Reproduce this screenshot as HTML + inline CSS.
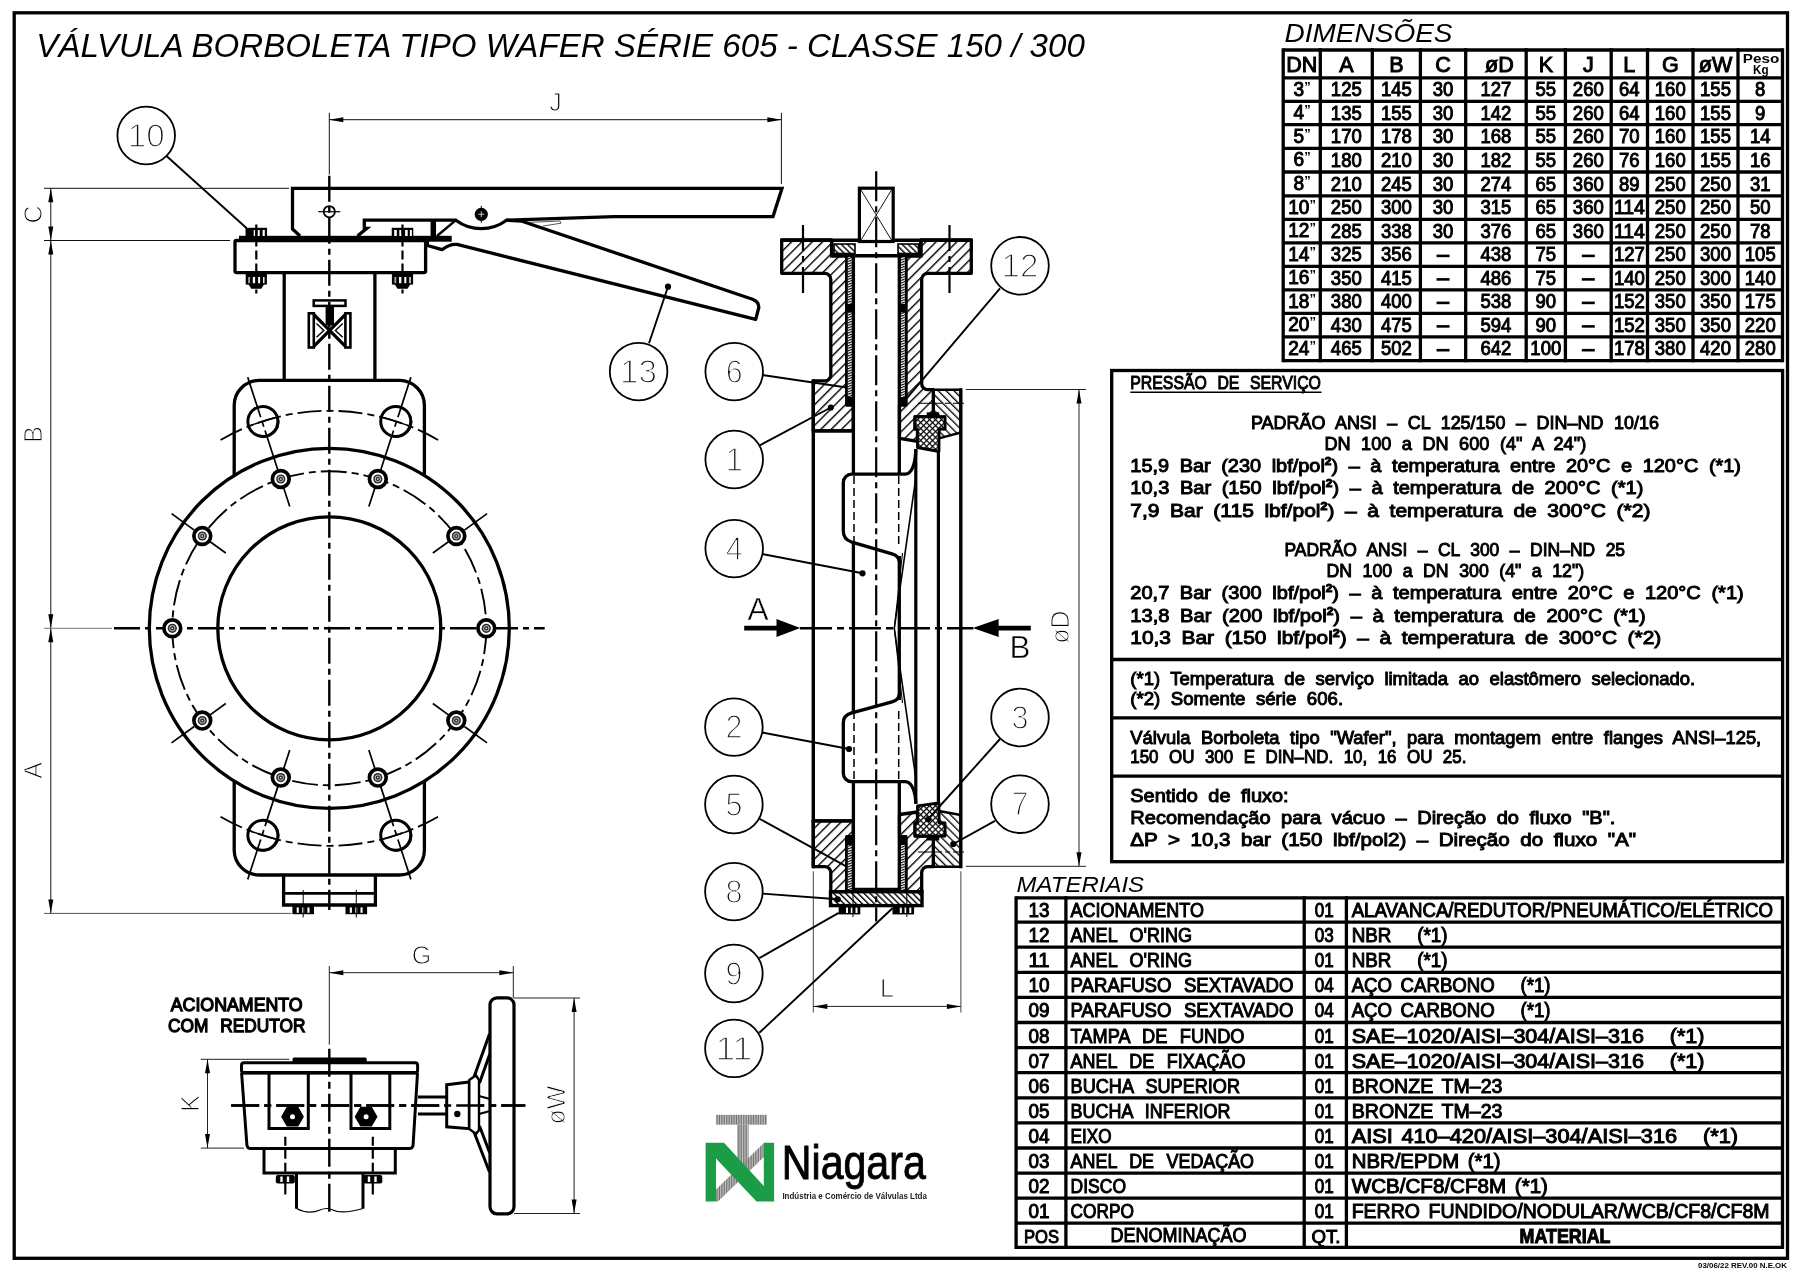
<!DOCTYPE html>
<html lang="pt"><head><meta charset="utf-8"><title>V&aacute;lvula Borboleta Tipo Wafer S&eacute;rie 605</title>
<style>
html,body{margin:0;padding:0;background:#fff;}
body{width:1800px;height:1272px;overflow:hidden;}
svg{display:block;font-family:"Liberation Sans",sans-serif;}
text{white-space:pre;}
.cad{stroke:#000;stroke-width:1.0px;}
.thin{stroke:#fff;stroke-width:1.0px;}
.thin2{stroke:#fff;stroke-width:1.5px;}
</style></head><body>
<svg width="1800" height="1272" viewBox="0 0 1800 1272">
<defs>
<pattern id="h1" patternUnits="userSpaceOnUse" width="7.3" height="7.3" patternTransform="rotate(45)"><rect x="0" y="0" width="1.4" height="7.3" fill="#000"/></pattern>
<pattern id="h2" patternUnits="userSpaceOnUse" width="5.6" height="5.6" patternTransform="rotate(-45)"><rect x="0" y="0" width="1.3" height="5.6" fill="#000"/></pattern>
<pattern id="h3" patternUnits="userSpaceOnUse" width="4.3" height="4.3" patternTransform="rotate(-45)"><rect x="0" y="0" width="1.4" height="4.3" fill="#000"/></pattern>
<pattern id="hx" patternUnits="userSpaceOnUse" width="4.2" height="4.2" patternTransform="rotate(45)"><rect x="0" y="0" width="1.2" height="4.2" fill="#000"/><rect x="0" y="0" width="4.2" height="1.2" fill="#000"/></pattern>
<pattern id="hb" patternUnits="userSpaceOnUse" width="2" height="2.4" patternTransform="rotate(-20)"><rect x="0" y="0" width="2" height="1.1" fill="#000"/></pattern>
<pattern id="gs" patternUnits="userSpaceOnUse" width="1.7" height="4"><rect x="0" y="0" width="1.1" height="4" fill="#6f6f6f"/><rect x="1.1" y="0" width="0.6" height="4" fill="#bdbdbd"/></pattern>
</defs>
<rect x="0" y="0" width="1800" height="1272" fill="#fff"/>
<g style="filter:grayscale(1)">
<!-- frame -->
<rect x="14.2" y="12.8" width="1773.3" height="1245.5" fill="none" stroke="#000" stroke-width="3.3"/>
<text x="36.3" y="57" font-size="32.3" font-style="italic" textLength="1048.5" lengthAdjust="spacingAndGlyphs">VÁLVULA BORBOLETA TIPO WAFER SÉRIE 605 - CLASSE 150 / 300</text>
<text x="1698" y="1268.2" font-size="7.6" font-weight="bold" textLength="89" lengthAdjust="spacingAndGlyphs">03/06/22 REV.00 N.E.OK</text>
<!-- dimensoes -->
<text x="1284.5" y="41.8" font-size="26.5" font-style="italic" textLength="168" lengthAdjust="spacingAndGlyphs">DIMENSÕES</text>
<line x1="1283.2" y1="48.35" x2="1283.2" y2="362.25" stroke="#000" stroke-width="3.3"/>
<line x1="1320.3" y1="48.35" x2="1320.3" y2="362.25" stroke="#000" stroke-width="3.3"/>
<line x1="1372.3" y1="48.35" x2="1372.3" y2="362.25" stroke="#000" stroke-width="3.3"/>
<line x1="1420.4" y1="48.35" x2="1420.4" y2="362.25" stroke="#000" stroke-width="3.3"/>
<line x1="1465.7" y1="48.35" x2="1465.7" y2="362.25" stroke="#000" stroke-width="3.3"/>
<line x1="1526.2" y1="48.35" x2="1526.2" y2="362.25" stroke="#000" stroke-width="3.3"/>
<line x1="1565.4" y1="48.35" x2="1565.4" y2="362.25" stroke="#000" stroke-width="3.3"/>
<line x1="1611.2" y1="48.35" x2="1611.2" y2="362.25" stroke="#000" stroke-width="3.3"/>
<line x1="1647.5" y1="48.35" x2="1647.5" y2="362.25" stroke="#000" stroke-width="3.3"/>
<line x1="1693" y1="48.35" x2="1693" y2="362.25" stroke="#000" stroke-width="3.3"/>
<line x1="1738" y1="48.35" x2="1738" y2="362.25" stroke="#000" stroke-width="3.3"/>
<line x1="1782.5" y1="48.35" x2="1782.5" y2="362.25" stroke="#000" stroke-width="3.3"/>
<line x1="1283.2" y1="50" x2="1782.5" y2="50" stroke="#000" stroke-width="3.3"/>
<line x1="1283.2" y1="77.8" x2="1782.5" y2="77.8" stroke="#000" stroke-width="3.3"/>
<line x1="1283.2" y1="101.3" x2="1782.5" y2="101.3" stroke="#000" stroke-width="3.3"/>
<line x1="1283.2" y1="124.7" x2="1782.5" y2="124.7" stroke="#000" stroke-width="3.3"/>
<line x1="1283.2" y1="148.3" x2="1782.5" y2="148.3" stroke="#000" stroke-width="3.3"/>
<line x1="1283.2" y1="172" x2="1782.5" y2="172" stroke="#000" stroke-width="3.3"/>
<line x1="1283.2" y1="195.8" x2="1782.5" y2="195.8" stroke="#000" stroke-width="3.3"/>
<line x1="1283.2" y1="219.3" x2="1782.5" y2="219.3" stroke="#000" stroke-width="3.3"/>
<line x1="1283.2" y1="242.8" x2="1782.5" y2="242.8" stroke="#000" stroke-width="3.3"/>
<line x1="1283.2" y1="266.3" x2="1782.5" y2="266.3" stroke="#000" stroke-width="3.3"/>
<line x1="1283.2" y1="289.8" x2="1782.5" y2="289.8" stroke="#000" stroke-width="3.3"/>
<line x1="1283.2" y1="313.3" x2="1782.5" y2="313.3" stroke="#000" stroke-width="3.3"/>
<line x1="1283.2" y1="336.8" x2="1782.5" y2="336.8" stroke="#000" stroke-width="3.3"/>
<line x1="1283.2" y1="360.6" x2="1782.5" y2="360.6" stroke="#000" stroke-width="3.3"/>
<text x="1301.75" y="72.3" font-size="21.5" text-anchor="middle" class="cad">DN</text>
<text x="1346.3" y="72.3" font-size="21.5" text-anchor="middle" class="cad">A</text>
<text x="1396.35" y="72.3" font-size="21.5" text-anchor="middle" class="cad">B</text>
<text x="1443.05" y="72.3" font-size="21.5" text-anchor="middle" class="cad">C</text>
<text x="1499.45" y="72.3" font-size="21.5" text-anchor="middle" class="cad">øD</text>
<text x="1545.8" y="72.3" font-size="21.5" text-anchor="middle" class="cad">K</text>
<text x="1588.3" y="72.3" font-size="21.5" text-anchor="middle" class="cad">J</text>
<text x="1629.35" y="72.3" font-size="21.5" text-anchor="middle" class="cad">L</text>
<text x="1670.25" y="72.3" font-size="21.5" text-anchor="middle" class="cad">G</text>
<text x="1715.5" y="72.3" font-size="21.5" text-anchor="middle" class="cad">øW</text>
<text x="1761.05" y="62.6" font-size="13.5" text-anchor="middle" font-weight="bold" textLength="36.5" lengthAdjust="spacingAndGlyphs">Peso</text>
<text x="1760.75" y="73.8" font-size="12" text-anchor="middle" font-weight="bold" textLength="15.5" lengthAdjust="spacingAndGlyphs">Kg</text>
<text x="1293.45" y="95.6" font-size="19.5" textLength="10.6" lengthAdjust="spacingAndGlyphs" class="cad">3</text>
<text x="1304.25" y="90.6" font-size="13" font-weight="bold">”</text>
<text x="1346.3" y="96.1" font-size="19.5" text-anchor="middle" textLength="30.9" lengthAdjust="spacingAndGlyphs" class="cad">125</text>
<text x="1396.35" y="96.1" font-size="19.5" text-anchor="middle" textLength="30.9" lengthAdjust="spacingAndGlyphs" class="cad">145</text>
<text x="1443.05" y="96.1" font-size="19.5" text-anchor="middle" textLength="20.6" lengthAdjust="spacingAndGlyphs" class="cad">30</text>
<text x="1495.95" y="96.1" font-size="19.5" text-anchor="middle" textLength="30.9" lengthAdjust="spacingAndGlyphs" class="cad">127</text>
<text x="1545.8" y="96.1" font-size="19.5" text-anchor="middle" textLength="20.6" lengthAdjust="spacingAndGlyphs" class="cad">55</text>
<text x="1588.3" y="96.1" font-size="19.5" text-anchor="middle" textLength="30.9" lengthAdjust="spacingAndGlyphs" class="cad">260</text>
<text x="1629.35" y="96.1" font-size="19.5" text-anchor="middle" textLength="20.6" lengthAdjust="spacingAndGlyphs" class="cad">64</text>
<text x="1670.25" y="96.1" font-size="19.5" text-anchor="middle" textLength="30.9" lengthAdjust="spacingAndGlyphs" class="cad">160</text>
<text x="1715.5" y="96.1" font-size="19.5" text-anchor="middle" textLength="30.9" lengthAdjust="spacingAndGlyphs" class="cad">155</text>
<text x="1760.25" y="96.1" font-size="19.5" text-anchor="middle" textLength="10.3" lengthAdjust="spacingAndGlyphs" class="cad">8</text>
<text x="1293.45" y="119" font-size="19.5" textLength="10.6" lengthAdjust="spacingAndGlyphs" class="cad">4</text>
<text x="1304.25" y="114" font-size="13" font-weight="bold">”</text>
<text x="1346.3" y="119.5" font-size="19.5" text-anchor="middle" textLength="30.9" lengthAdjust="spacingAndGlyphs" class="cad">135</text>
<text x="1396.35" y="119.5" font-size="19.5" text-anchor="middle" textLength="30.9" lengthAdjust="spacingAndGlyphs" class="cad">155</text>
<text x="1443.05" y="119.5" font-size="19.5" text-anchor="middle" textLength="20.6" lengthAdjust="spacingAndGlyphs" class="cad">30</text>
<text x="1495.95" y="119.5" font-size="19.5" text-anchor="middle" textLength="30.9" lengthAdjust="spacingAndGlyphs" class="cad">142</text>
<text x="1545.8" y="119.5" font-size="19.5" text-anchor="middle" textLength="20.6" lengthAdjust="spacingAndGlyphs" class="cad">55</text>
<text x="1588.3" y="119.5" font-size="19.5" text-anchor="middle" textLength="30.9" lengthAdjust="spacingAndGlyphs" class="cad">260</text>
<text x="1629.35" y="119.5" font-size="19.5" text-anchor="middle" textLength="20.6" lengthAdjust="spacingAndGlyphs" class="cad">64</text>
<text x="1670.25" y="119.5" font-size="19.5" text-anchor="middle" textLength="30.9" lengthAdjust="spacingAndGlyphs" class="cad">160</text>
<text x="1715.5" y="119.5" font-size="19.5" text-anchor="middle" textLength="30.9" lengthAdjust="spacingAndGlyphs" class="cad">155</text>
<text x="1760.25" y="119.5" font-size="19.5" text-anchor="middle" textLength="10.3" lengthAdjust="spacingAndGlyphs" class="cad">9</text>
<text x="1293.45" y="142.6" font-size="19.5" textLength="10.6" lengthAdjust="spacingAndGlyphs" class="cad">5</text>
<text x="1304.25" y="137.6" font-size="13" font-weight="bold">”</text>
<text x="1346.3" y="143.1" font-size="19.5" text-anchor="middle" textLength="30.9" lengthAdjust="spacingAndGlyphs" class="cad">170</text>
<text x="1396.35" y="143.1" font-size="19.5" text-anchor="middle" textLength="30.9" lengthAdjust="spacingAndGlyphs" class="cad">178</text>
<text x="1443.05" y="143.1" font-size="19.5" text-anchor="middle" textLength="20.6" lengthAdjust="spacingAndGlyphs" class="cad">30</text>
<text x="1495.95" y="143.1" font-size="19.5" text-anchor="middle" textLength="30.9" lengthAdjust="spacingAndGlyphs" class="cad">168</text>
<text x="1545.8" y="143.1" font-size="19.5" text-anchor="middle" textLength="20.6" lengthAdjust="spacingAndGlyphs" class="cad">55</text>
<text x="1588.3" y="143.1" font-size="19.5" text-anchor="middle" textLength="30.9" lengthAdjust="spacingAndGlyphs" class="cad">260</text>
<text x="1629.35" y="143.1" font-size="19.5" text-anchor="middle" textLength="20.6" lengthAdjust="spacingAndGlyphs" class="cad">70</text>
<text x="1670.25" y="143.1" font-size="19.5" text-anchor="middle" textLength="30.9" lengthAdjust="spacingAndGlyphs" class="cad">160</text>
<text x="1715.5" y="143.1" font-size="19.5" text-anchor="middle" textLength="30.9" lengthAdjust="spacingAndGlyphs" class="cad">155</text>
<text x="1760.25" y="143.1" font-size="19.5" text-anchor="middle" textLength="20.6" lengthAdjust="spacingAndGlyphs" class="cad">14</text>
<text x="1293.45" y="166.3" font-size="19.5" textLength="10.6" lengthAdjust="spacingAndGlyphs" class="cad">6</text>
<text x="1304.25" y="161.3" font-size="13" font-weight="bold">”</text>
<text x="1346.3" y="166.8" font-size="19.5" text-anchor="middle" textLength="30.9" lengthAdjust="spacingAndGlyphs" class="cad">180</text>
<text x="1396.35" y="166.8" font-size="19.5" text-anchor="middle" textLength="30.9" lengthAdjust="spacingAndGlyphs" class="cad">210</text>
<text x="1443.05" y="166.8" font-size="19.5" text-anchor="middle" textLength="20.6" lengthAdjust="spacingAndGlyphs" class="cad">30</text>
<text x="1495.95" y="166.8" font-size="19.5" text-anchor="middle" textLength="30.9" lengthAdjust="spacingAndGlyphs" class="cad">182</text>
<text x="1545.8" y="166.8" font-size="19.5" text-anchor="middle" textLength="20.6" lengthAdjust="spacingAndGlyphs" class="cad">55</text>
<text x="1588.3" y="166.8" font-size="19.5" text-anchor="middle" textLength="30.9" lengthAdjust="spacingAndGlyphs" class="cad">260</text>
<text x="1629.35" y="166.8" font-size="19.5" text-anchor="middle" textLength="20.6" lengthAdjust="spacingAndGlyphs" class="cad">76</text>
<text x="1670.25" y="166.8" font-size="19.5" text-anchor="middle" textLength="30.9" lengthAdjust="spacingAndGlyphs" class="cad">160</text>
<text x="1715.5" y="166.8" font-size="19.5" text-anchor="middle" textLength="30.9" lengthAdjust="spacingAndGlyphs" class="cad">155</text>
<text x="1760.25" y="166.8" font-size="19.5" text-anchor="middle" textLength="20.6" lengthAdjust="spacingAndGlyphs" class="cad">16</text>
<text x="1293.45" y="190.1" font-size="19.5" textLength="10.6" lengthAdjust="spacingAndGlyphs" class="cad">8</text>
<text x="1304.25" y="185.1" font-size="13" font-weight="bold">”</text>
<text x="1346.3" y="190.6" font-size="19.5" text-anchor="middle" textLength="30.9" lengthAdjust="spacingAndGlyphs" class="cad">210</text>
<text x="1396.35" y="190.6" font-size="19.5" text-anchor="middle" textLength="30.9" lengthAdjust="spacingAndGlyphs" class="cad">245</text>
<text x="1443.05" y="190.6" font-size="19.5" text-anchor="middle" textLength="20.6" lengthAdjust="spacingAndGlyphs" class="cad">30</text>
<text x="1495.95" y="190.6" font-size="19.5" text-anchor="middle" textLength="30.9" lengthAdjust="spacingAndGlyphs" class="cad">274</text>
<text x="1545.8" y="190.6" font-size="19.5" text-anchor="middle" textLength="20.6" lengthAdjust="spacingAndGlyphs" class="cad">65</text>
<text x="1588.3" y="190.6" font-size="19.5" text-anchor="middle" textLength="30.9" lengthAdjust="spacingAndGlyphs" class="cad">360</text>
<text x="1629.35" y="190.6" font-size="19.5" text-anchor="middle" textLength="20.6" lengthAdjust="spacingAndGlyphs" class="cad">89</text>
<text x="1670.25" y="190.6" font-size="19.5" text-anchor="middle" textLength="30.9" lengthAdjust="spacingAndGlyphs" class="cad">250</text>
<text x="1715.5" y="190.6" font-size="19.5" text-anchor="middle" textLength="30.9" lengthAdjust="spacingAndGlyphs" class="cad">250</text>
<text x="1760.25" y="190.6" font-size="19.5" text-anchor="middle" textLength="20.6" lengthAdjust="spacingAndGlyphs" class="cad">31</text>
<text x="1288.15" y="213.6" font-size="19.5" textLength="21.2" lengthAdjust="spacingAndGlyphs" class="cad">10</text>
<text x="1309.55" y="208.6" font-size="13" font-weight="bold">”</text>
<text x="1346.3" y="214.1" font-size="19.5" text-anchor="middle" textLength="30.9" lengthAdjust="spacingAndGlyphs" class="cad">250</text>
<text x="1396.35" y="214.1" font-size="19.5" text-anchor="middle" textLength="30.9" lengthAdjust="spacingAndGlyphs" class="cad">300</text>
<text x="1443.05" y="214.1" font-size="19.5" text-anchor="middle" textLength="20.6" lengthAdjust="spacingAndGlyphs" class="cad">30</text>
<text x="1495.95" y="214.1" font-size="19.5" text-anchor="middle" textLength="30.9" lengthAdjust="spacingAndGlyphs" class="cad">315</text>
<text x="1545.8" y="214.1" font-size="19.5" text-anchor="middle" textLength="20.6" lengthAdjust="spacingAndGlyphs" class="cad">65</text>
<text x="1588.3" y="214.1" font-size="19.5" text-anchor="middle" textLength="30.9" lengthAdjust="spacingAndGlyphs" class="cad">360</text>
<text x="1629.35" y="214.1" font-size="19.5" text-anchor="middle" textLength="30.9" lengthAdjust="spacingAndGlyphs" class="cad">114</text>
<text x="1670.25" y="214.1" font-size="19.5" text-anchor="middle" textLength="30.9" lengthAdjust="spacingAndGlyphs" class="cad">250</text>
<text x="1715.5" y="214.1" font-size="19.5" text-anchor="middle" textLength="30.9" lengthAdjust="spacingAndGlyphs" class="cad">250</text>
<text x="1760.25" y="214.1" font-size="19.5" text-anchor="middle" textLength="20.6" lengthAdjust="spacingAndGlyphs" class="cad">50</text>
<text x="1288.15" y="237.1" font-size="19.5" textLength="21.2" lengthAdjust="spacingAndGlyphs" class="cad">12</text>
<text x="1309.55" y="232.1" font-size="13" font-weight="bold">”</text>
<text x="1346.3" y="237.6" font-size="19.5" text-anchor="middle" textLength="30.9" lengthAdjust="spacingAndGlyphs" class="cad">285</text>
<text x="1396.35" y="237.6" font-size="19.5" text-anchor="middle" textLength="30.9" lengthAdjust="spacingAndGlyphs" class="cad">338</text>
<text x="1443.05" y="237.6" font-size="19.5" text-anchor="middle" textLength="20.6" lengthAdjust="spacingAndGlyphs" class="cad">30</text>
<text x="1495.95" y="237.6" font-size="19.5" text-anchor="middle" textLength="30.9" lengthAdjust="spacingAndGlyphs" class="cad">376</text>
<text x="1545.8" y="237.6" font-size="19.5" text-anchor="middle" textLength="20.6" lengthAdjust="spacingAndGlyphs" class="cad">65</text>
<text x="1588.3" y="237.6" font-size="19.5" text-anchor="middle" textLength="30.9" lengthAdjust="spacingAndGlyphs" class="cad">360</text>
<text x="1629.35" y="237.6" font-size="19.5" text-anchor="middle" textLength="30.9" lengthAdjust="spacingAndGlyphs" class="cad">114</text>
<text x="1670.25" y="237.6" font-size="19.5" text-anchor="middle" textLength="30.9" lengthAdjust="spacingAndGlyphs" class="cad">250</text>
<text x="1715.5" y="237.6" font-size="19.5" text-anchor="middle" textLength="30.9" lengthAdjust="spacingAndGlyphs" class="cad">250</text>
<text x="1760.25" y="237.6" font-size="19.5" text-anchor="middle" textLength="20.6" lengthAdjust="spacingAndGlyphs" class="cad">78</text>
<text x="1288.15" y="260.6" font-size="19.5" textLength="21.2" lengthAdjust="spacingAndGlyphs" class="cad">14</text>
<text x="1309.55" y="255.6" font-size="13" font-weight="bold">”</text>
<text x="1346.3" y="261.1" font-size="19.5" text-anchor="middle" textLength="30.9" lengthAdjust="spacingAndGlyphs" class="cad">325</text>
<text x="1396.35" y="261.1" font-size="19.5" text-anchor="middle" textLength="30.9" lengthAdjust="spacingAndGlyphs" class="cad">356</text>
<line x1="1436.55" y1="255.9" x2="1449.55" y2="255.9" stroke="#000" stroke-width="2.6"/>
<text x="1495.95" y="261.1" font-size="19.5" text-anchor="middle" textLength="30.9" lengthAdjust="spacingAndGlyphs" class="cad">438</text>
<text x="1545.8" y="261.1" font-size="19.5" text-anchor="middle" textLength="20.6" lengthAdjust="spacingAndGlyphs" class="cad">75</text>
<line x1="1581.8" y1="255.9" x2="1594.8" y2="255.9" stroke="#000" stroke-width="2.6"/>
<text x="1629.35" y="261.1" font-size="19.5" text-anchor="middle" textLength="30.9" lengthAdjust="spacingAndGlyphs" class="cad">127</text>
<text x="1670.25" y="261.1" font-size="19.5" text-anchor="middle" textLength="30.9" lengthAdjust="spacingAndGlyphs" class="cad">250</text>
<text x="1715.5" y="261.1" font-size="19.5" text-anchor="middle" textLength="30.9" lengthAdjust="spacingAndGlyphs" class="cad">300</text>
<text x="1760.25" y="261.1" font-size="19.5" text-anchor="middle" textLength="30.9" lengthAdjust="spacingAndGlyphs" class="cad">105</text>
<text x="1288.15" y="284.1" font-size="19.5" textLength="21.2" lengthAdjust="spacingAndGlyphs" class="cad">16</text>
<text x="1309.55" y="279.1" font-size="13" font-weight="bold">”</text>
<text x="1346.3" y="284.6" font-size="19.5" text-anchor="middle" textLength="30.9" lengthAdjust="spacingAndGlyphs" class="cad">350</text>
<text x="1396.35" y="284.6" font-size="19.5" text-anchor="middle" textLength="30.9" lengthAdjust="spacingAndGlyphs" class="cad">415</text>
<line x1="1436.55" y1="279.4" x2="1449.55" y2="279.4" stroke="#000" stroke-width="2.6"/>
<text x="1495.95" y="284.6" font-size="19.5" text-anchor="middle" textLength="30.9" lengthAdjust="spacingAndGlyphs" class="cad">486</text>
<text x="1545.8" y="284.6" font-size="19.5" text-anchor="middle" textLength="20.6" lengthAdjust="spacingAndGlyphs" class="cad">75</text>
<line x1="1581.8" y1="279.4" x2="1594.8" y2="279.4" stroke="#000" stroke-width="2.6"/>
<text x="1629.35" y="284.6" font-size="19.5" text-anchor="middle" textLength="30.9" lengthAdjust="spacingAndGlyphs" class="cad">140</text>
<text x="1670.25" y="284.6" font-size="19.5" text-anchor="middle" textLength="30.9" lengthAdjust="spacingAndGlyphs" class="cad">250</text>
<text x="1715.5" y="284.6" font-size="19.5" text-anchor="middle" textLength="30.9" lengthAdjust="spacingAndGlyphs" class="cad">300</text>
<text x="1760.25" y="284.6" font-size="19.5" text-anchor="middle" textLength="30.9" lengthAdjust="spacingAndGlyphs" class="cad">140</text>
<text x="1288.15" y="307.6" font-size="19.5" textLength="21.2" lengthAdjust="spacingAndGlyphs" class="cad">18</text>
<text x="1309.55" y="302.6" font-size="13" font-weight="bold">”</text>
<text x="1346.3" y="308.1" font-size="19.5" text-anchor="middle" textLength="30.9" lengthAdjust="spacingAndGlyphs" class="cad">380</text>
<text x="1396.35" y="308.1" font-size="19.5" text-anchor="middle" textLength="30.9" lengthAdjust="spacingAndGlyphs" class="cad">400</text>
<line x1="1436.55" y1="302.9" x2="1449.55" y2="302.9" stroke="#000" stroke-width="2.6"/>
<text x="1495.95" y="308.1" font-size="19.5" text-anchor="middle" textLength="30.9" lengthAdjust="spacingAndGlyphs" class="cad">538</text>
<text x="1545.8" y="308.1" font-size="19.5" text-anchor="middle" textLength="20.6" lengthAdjust="spacingAndGlyphs" class="cad">90</text>
<line x1="1581.8" y1="302.9" x2="1594.8" y2="302.9" stroke="#000" stroke-width="2.6"/>
<text x="1629.35" y="308.1" font-size="19.5" text-anchor="middle" textLength="30.9" lengthAdjust="spacingAndGlyphs" class="cad">152</text>
<text x="1670.25" y="308.1" font-size="19.5" text-anchor="middle" textLength="30.9" lengthAdjust="spacingAndGlyphs" class="cad">350</text>
<text x="1715.5" y="308.1" font-size="19.5" text-anchor="middle" textLength="30.9" lengthAdjust="spacingAndGlyphs" class="cad">350</text>
<text x="1760.25" y="308.1" font-size="19.5" text-anchor="middle" textLength="30.9" lengthAdjust="spacingAndGlyphs" class="cad">175</text>
<text x="1288.15" y="331.1" font-size="19.5" textLength="21.2" lengthAdjust="spacingAndGlyphs" class="cad">20</text>
<text x="1309.55" y="326.1" font-size="13" font-weight="bold">”</text>
<text x="1346.3" y="331.6" font-size="19.5" text-anchor="middle" textLength="30.9" lengthAdjust="spacingAndGlyphs" class="cad">430</text>
<text x="1396.35" y="331.6" font-size="19.5" text-anchor="middle" textLength="30.9" lengthAdjust="spacingAndGlyphs" class="cad">475</text>
<line x1="1436.55" y1="326.4" x2="1449.55" y2="326.4" stroke="#000" stroke-width="2.6"/>
<text x="1495.95" y="331.6" font-size="19.5" text-anchor="middle" textLength="30.9" lengthAdjust="spacingAndGlyphs" class="cad">594</text>
<text x="1545.8" y="331.6" font-size="19.5" text-anchor="middle" textLength="20.6" lengthAdjust="spacingAndGlyphs" class="cad">90</text>
<line x1="1581.8" y1="326.4" x2="1594.8" y2="326.4" stroke="#000" stroke-width="2.6"/>
<text x="1629.35" y="331.6" font-size="19.5" text-anchor="middle" textLength="30.9" lengthAdjust="spacingAndGlyphs" class="cad">152</text>
<text x="1670.25" y="331.6" font-size="19.5" text-anchor="middle" textLength="30.9" lengthAdjust="spacingAndGlyphs" class="cad">350</text>
<text x="1715.5" y="331.6" font-size="19.5" text-anchor="middle" textLength="30.9" lengthAdjust="spacingAndGlyphs" class="cad">350</text>
<text x="1760.25" y="331.6" font-size="19.5" text-anchor="middle" textLength="30.9" lengthAdjust="spacingAndGlyphs" class="cad">220</text>
<text x="1288.15" y="354.9" font-size="19.5" textLength="21.2" lengthAdjust="spacingAndGlyphs" class="cad">24</text>
<text x="1309.55" y="349.9" font-size="13" font-weight="bold">”</text>
<text x="1346.3" y="355.4" font-size="19.5" text-anchor="middle" textLength="30.9" lengthAdjust="spacingAndGlyphs" class="cad">465</text>
<text x="1396.35" y="355.4" font-size="19.5" text-anchor="middle" textLength="30.9" lengthAdjust="spacingAndGlyphs" class="cad">502</text>
<line x1="1436.55" y1="350.2" x2="1449.55" y2="350.2" stroke="#000" stroke-width="2.6"/>
<text x="1495.95" y="355.4" font-size="19.5" text-anchor="middle" textLength="30.9" lengthAdjust="spacingAndGlyphs" class="cad">642</text>
<text x="1545.8" y="355.4" font-size="19.5" text-anchor="middle" textLength="30.9" lengthAdjust="spacingAndGlyphs" class="cad">100</text>
<line x1="1581.8" y1="350.2" x2="1594.8" y2="350.2" stroke="#000" stroke-width="2.6"/>
<text x="1629.35" y="355.4" font-size="19.5" text-anchor="middle" textLength="30.9" lengthAdjust="spacingAndGlyphs" class="cad">178</text>
<text x="1670.25" y="355.4" font-size="19.5" text-anchor="middle" textLength="30.9" lengthAdjust="spacingAndGlyphs" class="cad">380</text>
<text x="1715.5" y="355.4" font-size="19.5" text-anchor="middle" textLength="30.9" lengthAdjust="spacingAndGlyphs" class="cad">420</text>
<text x="1760.25" y="355.4" font-size="19.5" text-anchor="middle" textLength="30.9" lengthAdjust="spacingAndGlyphs" class="cad">280</text>
<!-- notas -->
<rect x="1111.7" y="370.5" width="670.9" height="491.2" fill="none" stroke="#000" stroke-width="3.3"/>
<line x1="1111.7" y1="659.5" x2="1782.6" y2="659.5" stroke="#000" stroke-width="3.3"/>
<line x1="1111.7" y1="717.8" x2="1782.6" y2="717.8" stroke="#000" stroke-width="3.3"/>
<line x1="1111.7" y1="776.1" x2="1782.6" y2="776.1" stroke="#000" stroke-width="3.3"/>
<text x="1130.3" y="389.2" font-size="18.6" style="word-spacing:7.16px" textLength="190.6" lengthAdjust="spacingAndGlyphs" class="cad">PRESSÃO DE SERVIÇO</text>
<line x1="1130.3" y1="392.3" x2="1321.5" y2="392.3" stroke="#000" stroke-width="1.4"/>
<text x="1250.9" y="428.8" font-size="18.6" style="word-spacing:5.71px" textLength="408" lengthAdjust="spacingAndGlyphs" class="cad">PADRÃO ANSI – CL 125/150 – DIN–ND 10/16</text>
<text x="1324.4" y="449.5" font-size="18.6" style="word-spacing:5.6px" textLength="261.8" lengthAdjust="spacingAndGlyphs" class="cad">DN 100 a DN 600 (4" A 24")</text>
<text x="1130.3" y="472" font-size="18.6" style="word-spacing:4.71px" textLength="610.7" lengthAdjust="spacingAndGlyphs" class="cad">15,9 Bar (230 lbf/pol<tspan font-size="11" dy="-7" font-weight="bold">2</tspan><tspan dy="7">)</tspan> – à temperatura entre 20°C e 120°C (*1)</text>
<text x="1130.3" y="494.2" font-size="18.6" style="word-spacing:4.67px" textLength="513.1" lengthAdjust="spacingAndGlyphs" class="cad">10,3 Bar (150 lbf/pol<tspan font-size="11" dy="-7" font-weight="bold">2</tspan><tspan dy="7">)</tspan> – à temperatura de 200°C (*1)</text>
<text x="1130.3" y="516.7" font-size="18.6" style="word-spacing:4.22px" textLength="520.1" lengthAdjust="spacingAndGlyphs" class="cad">7,9 Bar (115 lbf/pol<tspan font-size="11" dy="-7" font-weight="bold">2</tspan><tspan dy="7">)</tspan> – à temperatura de 300°C (*2)</text>
<text x="1284.4" y="556.4" font-size="18.6" style="word-spacing:6px" textLength="340.7" lengthAdjust="spacingAndGlyphs" class="cad">PADRÃO ANSI – CL 300 – DIN–ND 25</text>
<text x="1326.4" y="577" font-size="18.6" style="word-spacing:5.84px" textLength="257.8" lengthAdjust="spacingAndGlyphs" class="cad">DN 100 a DN 300 (4" a 12")</text>
<text x="1130.3" y="599.2" font-size="18.6" style="word-spacing:4.65px" textLength="613.4" lengthAdjust="spacingAndGlyphs" class="cad">20,7 Bar (300 lbf/pol<tspan font-size="11" dy="-7" font-weight="bold">2</tspan><tspan dy="7">)</tspan> – à temperatura entre 20°C e 120°C (*1)</text>
<text x="1130.3" y="621.8" font-size="18.6" style="word-spacing:4.61px" textLength="515.4" lengthAdjust="spacingAndGlyphs" class="cad">13,8 Bar (200 lbf/pol<tspan font-size="11" dy="-7" font-weight="bold">2</tspan><tspan dy="7">)</tspan> – à temperatura de 200°C (*1)</text>
<text x="1130.3" y="643.9" font-size="18.6" style="word-spacing:4.26px" textLength="531" lengthAdjust="spacingAndGlyphs" class="cad">10,3 Bar (150 lbf/pol<tspan font-size="11" dy="-7" font-weight="bold">2</tspan><tspan dy="7">)</tspan> – à temperatura de 300°C (*2)</text>
<text x="1130.3" y="684.7" font-size="18.6" style="word-spacing:5.41px" textLength="564.8" lengthAdjust="spacingAndGlyphs" class="cad">(*1) Temperatura de serviço limitada ao elastômero selecionado.</text>
<text x="1130.3" y="705.3" font-size="18.6" style="word-spacing:5.31px" textLength="212.8" lengthAdjust="spacingAndGlyphs" class="cad">(*2) Somente série 606.</text>
<text x="1130.3" y="744.2" font-size="18.6" style="word-spacing:5.48px" textLength="630.9" lengthAdjust="spacingAndGlyphs" class="cad">Válvula Borboleta tipo "Wafer", para montagem entre flanges ANSI–125,</text>
<text x="1130.3" y="762.5" font-size="18.6" style="word-spacing:6.37px" textLength="336.1" lengthAdjust="spacingAndGlyphs" class="cad">150 OU 300 E DIN–ND. 10, 16 OU 25.</text>
<text x="1130.3" y="802.2" font-size="18.6" style="word-spacing:4.64px" textLength="158.3" lengthAdjust="spacingAndGlyphs" class="cad">Sentido de fluxo:</text>
<text x="1130.3" y="824" font-size="18.6" style="word-spacing:4.59px" textLength="485.1" lengthAdjust="spacingAndGlyphs" class="cad">Recomendação para vácuo – Direção do fluxo "B".</text>
<text x="1130.3" y="846.1" font-size="18.6" style="word-spacing:4.32px" textLength="505.7" lengthAdjust="spacingAndGlyphs" class="cad">ΔP &gt; 10,3 bar (150 lbf/pol2) – Direção do fluxo "A"</text>
<!-- materiais -->
<text x="1016.6" y="891.8" font-size="21.6" font-style="italic" textLength="127.5" lengthAdjust="spacingAndGlyphs">MATERIAIS</text>
<line x1="1016.1" y1="896.15" x2="1016.1" y2="1249.05" stroke="#000" stroke-width="3.3"/>
<line x1="1065.9" y1="896.15" x2="1065.9" y2="1249.05" stroke="#000" stroke-width="3.3"/>
<line x1="1304.2" y1="896.15" x2="1304.2" y2="1249.05" stroke="#000" stroke-width="3.3"/>
<line x1="1346.4" y1="896.15" x2="1346.4" y2="1249.05" stroke="#000" stroke-width="3.3"/>
<line x1="1782.5" y1="896.15" x2="1782.5" y2="1249.05" stroke="#000" stroke-width="3.3"/>
<line x1="1016.1" y1="897.8" x2="1782.5" y2="897.8" stroke="#000" stroke-width="3.3"/>
<line x1="1016.1" y1="922.2" x2="1782.5" y2="922.2" stroke="#000" stroke-width="3.3"/>
<line x1="1016.1" y1="947.2" x2="1782.5" y2="947.2" stroke="#000" stroke-width="3.3"/>
<line x1="1016.1" y1="972.3" x2="1782.5" y2="972.3" stroke="#000" stroke-width="3.3"/>
<line x1="1016.1" y1="997.4" x2="1782.5" y2="997.4" stroke="#000" stroke-width="3.3"/>
<line x1="1016.1" y1="1022.5" x2="1782.5" y2="1022.5" stroke="#000" stroke-width="3.3"/>
<line x1="1016.1" y1="1047.6" x2="1782.5" y2="1047.6" stroke="#000" stroke-width="3.3"/>
<line x1="1016.1" y1="1072.7" x2="1782.5" y2="1072.7" stroke="#000" stroke-width="3.3"/>
<line x1="1016.1" y1="1097.8" x2="1782.5" y2="1097.8" stroke="#000" stroke-width="3.3"/>
<line x1="1016.1" y1="1122.9" x2="1782.5" y2="1122.9" stroke="#000" stroke-width="3.3"/>
<line x1="1016.1" y1="1148" x2="1782.5" y2="1148" stroke="#000" stroke-width="3.3"/>
<line x1="1016.1" y1="1173.1" x2="1782.5" y2="1173.1" stroke="#000" stroke-width="3.3"/>
<line x1="1016.1" y1="1198.2" x2="1782.5" y2="1198.2" stroke="#000" stroke-width="3.3"/>
<line x1="1016.1" y1="1223.2" x2="1782.5" y2="1223.2" stroke="#000" stroke-width="3.3"/>
<line x1="1016.1" y1="1247.4" x2="1782.5" y2="1247.4" stroke="#000" stroke-width="3.3"/>
<text x="1039" y="917.1" font-size="19.5" text-anchor="middle" textLength="21" lengthAdjust="spacingAndGlyphs" class="cad">13</text>
<text x="1070.6" y="917.1" font-size="19.5" textLength="133.3" lengthAdjust="spacingAndGlyphs" class="cad">ACIONAMENTO</text>
<text x="1324.3" y="917.1" font-size="19.5" text-anchor="middle" textLength="19" lengthAdjust="spacingAndGlyphs" class="cad">01</text>
<text x="1351.7" y="917.1" font-size="19.5" textLength="421.3" lengthAdjust="spacingAndGlyphs" class="cad">ALAVANCA/REDUTOR/PNEUMÁTICO/ELÉTRICO</text>
<text x="1039" y="942.1" font-size="19.5" text-anchor="middle" textLength="21" lengthAdjust="spacingAndGlyphs" class="cad">12</text>
<text x="1070.6" y="942.1" font-size="19.5" style="word-spacing:8.11px" textLength="121.4" lengthAdjust="spacingAndGlyphs" class="cad">ANEL O'RING</text>
<text x="1324.3" y="942.1" font-size="19.5" text-anchor="middle" textLength="19" lengthAdjust="spacingAndGlyphs" class="cad">03</text>
<text x="1351.7" y="942.1" font-size="19.5" style="word-spacing:3.5px" textLength="95.8" lengthAdjust="spacingAndGlyphs" class="cad">NBR   (*1)</text>
<text x="1039" y="967.2" font-size="19.5" text-anchor="middle" textLength="21" lengthAdjust="spacingAndGlyphs" class="cad">11</text>
<text x="1070.6" y="967.2" font-size="19.5" style="word-spacing:8.11px" textLength="121.4" lengthAdjust="spacingAndGlyphs" class="cad">ANEL O'RING</text>
<text x="1324.3" y="967.2" font-size="19.5" text-anchor="middle" textLength="19" lengthAdjust="spacingAndGlyphs" class="cad">01</text>
<text x="1351.7" y="967.2" font-size="19.5" style="word-spacing:3.5px" textLength="95.8" lengthAdjust="spacingAndGlyphs" class="cad">NBR   (*1)</text>
<text x="1039" y="992.3" font-size="19.5" text-anchor="middle" textLength="21" lengthAdjust="spacingAndGlyphs" class="cad">10</text>
<text x="1070.6" y="992.3" font-size="19.5" style="word-spacing:7.7px" textLength="222.8" lengthAdjust="spacingAndGlyphs" class="cad">PARAFUSO SEXTAVADO</text>
<text x="1324.3" y="992.3" font-size="19.5" text-anchor="middle" textLength="19" lengthAdjust="spacingAndGlyphs" class="cad">04</text>
<text x="1351.7" y="992.3" font-size="19.5" style="word-spacing:3.59px" textLength="198.8" lengthAdjust="spacingAndGlyphs" class="cad">AÇO CARBONO   (*1)</text>
<text x="1039" y="1017.4" font-size="19.5" text-anchor="middle" textLength="21" lengthAdjust="spacingAndGlyphs" class="cad">09</text>
<text x="1070.6" y="1017.4" font-size="19.5" style="word-spacing:7.7px" textLength="222.8" lengthAdjust="spacingAndGlyphs" class="cad">PARAFUSO SEXTAVADO</text>
<text x="1324.3" y="1017.4" font-size="19.5" text-anchor="middle" textLength="19" lengthAdjust="spacingAndGlyphs" class="cad">04</text>
<text x="1351.7" y="1017.4" font-size="19.5" style="word-spacing:3.59px" textLength="198.8" lengthAdjust="spacingAndGlyphs" class="cad">AÇO CARBONO   (*1)</text>
<text x="1039" y="1042.5" font-size="19.5" text-anchor="middle" textLength="21" lengthAdjust="spacingAndGlyphs" class="cad">08</text>
<text x="1070.6" y="1042.5" font-size="19.5" style="word-spacing:7.98px" textLength="173.9" lengthAdjust="spacingAndGlyphs" class="cad">TAMPA DE FUNDO</text>
<text x="1324.3" y="1042.5" font-size="19.5" text-anchor="middle" textLength="19" lengthAdjust="spacingAndGlyphs" class="cad">01</text>
<text x="1351.7" y="1042.5" font-size="19.5" style="word-spacing:2.37px" textLength="352.8" lengthAdjust="spacingAndGlyphs" class="cad">SAE–1020/AISI–304/AISI–316   (*1)</text>
<text x="1039" y="1067.6" font-size="19.5" text-anchor="middle" textLength="21" lengthAdjust="spacingAndGlyphs" class="cad">07</text>
<text x="1070.6" y="1067.6" font-size="19.5" style="word-spacing:8.17px" textLength="174.9" lengthAdjust="spacingAndGlyphs" class="cad">ANEL DE FIXAÇÃO</text>
<text x="1324.3" y="1067.6" font-size="19.5" text-anchor="middle" textLength="19" lengthAdjust="spacingAndGlyphs" class="cad">01</text>
<text x="1351.7" y="1067.6" font-size="19.5" style="word-spacing:2.37px" textLength="352.8" lengthAdjust="spacingAndGlyphs" class="cad">SAE–1020/AISI–304/AISI–316   (*1)</text>
<text x="1039" y="1092.7" font-size="19.5" text-anchor="middle" textLength="21" lengthAdjust="spacingAndGlyphs" class="cad">06</text>
<text x="1070.6" y="1092.7" font-size="19.5" style="word-spacing:8.05px" textLength="169.4" lengthAdjust="spacingAndGlyphs" class="cad">BUCHA SUPERIOR</text>
<text x="1324.3" y="1092.7" font-size="19.5" text-anchor="middle" textLength="19" lengthAdjust="spacingAndGlyphs" class="cad">01</text>
<text x="1351.7" y="1092.7" font-size="19.5" style="word-spacing:3.15px" textLength="150.8" lengthAdjust="spacingAndGlyphs" class="cad">BRONZE TM–23</text>
<text x="1039" y="1117.8" font-size="19.5" text-anchor="middle" textLength="21" lengthAdjust="spacingAndGlyphs" class="cad">05</text>
<text x="1070.6" y="1117.8" font-size="19.5" style="word-spacing:8.18px" textLength="159.9" lengthAdjust="spacingAndGlyphs" class="cad">BUCHA INFERIOR</text>
<text x="1324.3" y="1117.8" font-size="19.5" text-anchor="middle" textLength="19" lengthAdjust="spacingAndGlyphs" class="cad">01</text>
<text x="1351.7" y="1117.8" font-size="19.5" style="word-spacing:3.15px" textLength="150.8" lengthAdjust="spacingAndGlyphs" class="cad">BRONZE TM–23</text>
<text x="1039" y="1142.9" font-size="19.5" text-anchor="middle" textLength="21" lengthAdjust="spacingAndGlyphs" class="cad">04</text>
<text x="1070.6" y="1142.9" font-size="19.5" textLength="40.9" lengthAdjust="spacingAndGlyphs" class="cad">EIXO</text>
<text x="1324.3" y="1142.9" font-size="19.5" text-anchor="middle" textLength="19" lengthAdjust="spacingAndGlyphs" class="cad">01</text>
<text x="1351.7" y="1142.9" font-size="19.5" style="word-spacing:2.29px" textLength="386.3" lengthAdjust="spacingAndGlyphs" class="cad">AISI 410–420/AISI–304/AISI–316   (*1)</text>
<text x="1039" y="1168" font-size="19.5" text-anchor="middle" textLength="21" lengthAdjust="spacingAndGlyphs" class="cad">03</text>
<text x="1070.6" y="1168" font-size="19.5" style="word-spacing:8.21px" textLength="183.4" lengthAdjust="spacingAndGlyphs" class="cad">ANEL DE VEDAÇÃO</text>
<text x="1324.3" y="1168" font-size="19.5" text-anchor="middle" textLength="19" lengthAdjust="spacingAndGlyphs" class="cad">01</text>
<text x="1351.7" y="1168" font-size="19.5" style="word-spacing:2.82px" textLength="148.8" lengthAdjust="spacingAndGlyphs" class="cad">NBR/EPDM (*1)</text>
<text x="1039" y="1193.1" font-size="19.5" text-anchor="middle" textLength="21" lengthAdjust="spacingAndGlyphs" class="cad">02</text>
<text x="1070.6" y="1193.1" font-size="19.5" textLength="55.4" lengthAdjust="spacingAndGlyphs" class="cad">DISCO</text>
<text x="1324.3" y="1193.1" font-size="19.5" text-anchor="middle" textLength="19" lengthAdjust="spacingAndGlyphs" class="cad">01</text>
<text x="1351.7" y="1193.1" font-size="19.5" style="word-spacing:2.72px" textLength="196.3" lengthAdjust="spacingAndGlyphs" class="cad">WCB/CF8/CF8M (*1)</text>
<text x="1039" y="1218.1" font-size="19.5" text-anchor="middle" textLength="21" lengthAdjust="spacingAndGlyphs" class="cad">01</text>
<text x="1070.6" y="1218.1" font-size="19.5" textLength="63.4" lengthAdjust="spacingAndGlyphs" class="cad">CORPO</text>
<text x="1324.3" y="1218.1" font-size="19.5" text-anchor="middle" textLength="19" lengthAdjust="spacingAndGlyphs" class="cad">01</text>
<text x="1351.7" y="1218.1" font-size="19.5" style="word-spacing:3.19px" textLength="417.8" lengthAdjust="spacingAndGlyphs" class="cad">FERRO FUNDIDO/NODULAR/WCB/CF8/CF8M</text>
<text x="1024" y="1243.2" font-size="18" textLength="35" lengthAdjust="spacingAndGlyphs" class="cad">POS</text>
<text x="1110.5" y="1242.1" font-size="19.5" textLength="136" lengthAdjust="spacingAndGlyphs" class="cad">DENOMINAÇÃO</text>
<text x="1311.5" y="1243.4" font-size="18.5" textLength="29" lengthAdjust="spacingAndGlyphs" class="cad">QT.</text>
<text x="1519.5" y="1242.6" font-size="19.5" font-weight="bold" textLength="91" lengthAdjust="spacingAndGlyphs" class="cad">MATERIAL</text>
<!-- vista frontal -->
<line x1="50.8" y1="188.3" x2="50.8" y2="913.4" stroke="#111" stroke-width="1"/>
<line x1="44" y1="188.3" x2="289" y2="188.3" stroke="#111" stroke-width="1"/>
<line x1="44" y1="240.5" x2="230" y2="240.5" stroke="#111" stroke-width="1"/>
<line x1="44" y1="628.3" x2="112" y2="628.3" stroke="#777" stroke-width="1"/>
<line x1="44" y1="913.4" x2="291.5" y2="913.4" stroke="#555" stroke-width="1"/>
<polygon points="50.8,188.3 53.3,202.3 48.3,202.3" fill="#000"/>
<polygon points="50.8,240.5 48.3,226.5 53.3,226.5" fill="#000"/>
<polygon points="50.8,240.5 53.3,254.5 48.3,254.5" fill="#000"/>
<polygon points="50.8,628.3 48.3,614.3 53.3,614.3" fill="#000"/>
<polygon points="50.8,628.3 53.3,642.3 48.3,642.3" fill="#000"/>
<polygon points="50.8,913.4 48.3,899.4 53.3,899.4" fill="#000"/>
<text x="41.5" y="214.5" font-size="25" text-anchor="middle" transform="rotate(-90 41.5 214.5)" class="thin">C</text>
<text x="41.5" y="434.5" font-size="25" text-anchor="middle" transform="rotate(-90 41.5 434.5)" class="thin">B</text>
<text x="41.5" y="770.5" font-size="25" text-anchor="middle" transform="rotate(-90 41.5 770.5)" class="thin">A</text>
<line x1="329.3" y1="112.8" x2="329.3" y2="174.5" stroke="#111" stroke-width="1"/>
<line x1="781.4" y1="112.8" x2="781.4" y2="184" stroke="#111" stroke-width="1"/>
<line x1="329.3" y1="119.7" x2="781.4" y2="119.7" stroke="#111" stroke-width="1"/>
<polygon points="329.3,119.7 343.3,117.2 343.3,122.2" fill="#000"/>
<polygon points="781.4,119.7 767.4,122.2 767.4,117.2" fill="#000"/>
<text x="555.6" y="110.5" font-size="25" text-anchor="middle" class="thin">J</text>
<circle cx="329.3" cy="628.3" r="180" fill="none" stroke="#000" stroke-width="3.3"/>
<circle cx="329.3" cy="628.3" r="111.5" fill="none" stroke="#000" stroke-width="3.3"/>
<path d="M234.2,475.6 V405.4 A25,25 0 0 1 259.2,380.4 H399.4 A25,25 0 0 1 424.4,405.4 V475.6" fill="none" stroke="#000" stroke-width="3.3"/>
<path d="M234.2,781 V850 A25,25 0 0 0 259.2,875 H399.4 A25,25 0 0 0 424.4,850 V781" fill="none" stroke="#000" stroke-width="3.3"/>
<line x1="284.2" y1="272.6" x2="284.2" y2="381" stroke="#000" stroke-width="3.3"/>
<line x1="374.9" y1="272.6" x2="374.9" y2="381" stroke="#000" stroke-width="3.3"/>
<path d="M283.6,875 V905 H375.4 V875" fill="none" stroke="#000" stroke-width="3.3"/>
<line x1="283.6" y1="893.4" x2="375.4" y2="893.4" stroke="#000" stroke-width="2.6"/>
<rect x="292.4" y="906" width="21.6" height="8.2" fill="#000" stroke="none" stroke-width="0"/>
<rect x="296.7" y="907.4" width="2.1" height="5.4" fill="#fff" stroke="none" stroke-width="0"/>
<rect x="302" y="907.4" width="2.1" height="5.4" fill="#fff" stroke="none" stroke-width="0"/>
<rect x="307.4" y="907.4" width="2.1" height="5.4" fill="#fff" stroke="none" stroke-width="0"/>
<line x1="303.2" y1="890" x2="303.2" y2="917.5" stroke="#000" stroke-width="1"/>
<rect x="345.5" y="906" width="21.6" height="8.2" fill="#000" stroke="none" stroke-width="0"/>
<rect x="349.8" y="907.4" width="2.1" height="5.4" fill="#fff" stroke="none" stroke-width="0"/>
<rect x="355.1" y="907.4" width="2.1" height="5.4" fill="#fff" stroke="none" stroke-width="0"/>
<rect x="360.5" y="907.4" width="2.1" height="5.4" fill="#fff" stroke="none" stroke-width="0"/>
<line x1="356.3" y1="890" x2="356.3" y2="917.5" stroke="#000" stroke-width="1"/>
<line x1="329.3" y1="175.8" x2="329.3" y2="910" stroke="#000" stroke-width="2.4" stroke-dasharray="26 5 6 5"/>
<line x1="114" y1="628.3" x2="544.7" y2="628.3" stroke="#000" stroke-width="2.4" stroke-dasharray="26 5 6 5"/>
<circle cx="329.3" cy="628.3" r="157" fill="none" stroke="#000" stroke-width="1.9" stroke-dasharray="26 5 7 5"/>
<path d="M220.55,439.94 A217.5,217.5 0 0 1 438.05,439.94" fill="none" stroke="#000" stroke-width="1.8" stroke-dasharray="24 5 7 5"/>
<path d="M220.55,816.66 A217.5,217.5 0 0 0 438.05,816.66" fill="none" stroke="#000" stroke-width="1.8" stroke-dasharray="24 5 7 5"/>
<line x1="368.85" y1="506.56" x2="410.88" y2="377.22" stroke="#000" stroke-width="1.7" stroke-dasharray="24 10 46 4 6 4 40 0"/>
<line x1="289.75" y1="506.56" x2="247.72" y2="377.22" stroke="#000" stroke-width="1.7" stroke-dasharray="24 10 46 4 6 4 40 0"/>
<line x1="368.85" y1="750.04" x2="410.88" y2="879.38" stroke="#000" stroke-width="1.7" stroke-dasharray="24 10 46 4 6 4 40 0"/>
<line x1="289.75" y1="750.04" x2="247.72" y2="879.38" stroke="#000" stroke-width="1.7" stroke-dasharray="24 10 46 4 6 4 40 0"/>
<line x1="432.85" y1="553.06" x2="487.06" y2="513.68" stroke="#000" stroke-width="1.7" stroke-dasharray="21 18 40"/>
<line x1="225.75" y1="553.06" x2="171.54" y2="513.68" stroke="#000" stroke-width="1.7" stroke-dasharray="21 18 40"/>
<line x1="432.85" y1="703.54" x2="487.06" y2="742.92" stroke="#000" stroke-width="1.7" stroke-dasharray="21 18 40"/>
<line x1="225.75" y1="703.54" x2="171.54" y2="742.92" stroke="#000" stroke-width="1.7" stroke-dasharray="21 18 40"/>
<circle cx="486.3" cy="628.3" r="8.4" fill="#fff" stroke="#000" stroke-width="3.7"/>
<circle cx="486.3" cy="628.3" r="4.6" fill="#2a2a2a" stroke="none" stroke-width="0"/>
<circle cx="486.3" cy="628.3" r="2.7" fill="none" stroke="#d8d8d8" stroke-width="0.9"/>
<circle cx="486.3" cy="628.3" r="0.9" fill="#ccc" stroke="none" stroke-width="0"/>
<circle cx="456.32" cy="720.58" r="8.4" fill="#fff" stroke="#000" stroke-width="3.7"/>
<circle cx="456.32" cy="720.58" r="4.6" fill="#2a2a2a" stroke="none" stroke-width="0"/>
<circle cx="456.32" cy="720.58" r="2.7" fill="none" stroke="#d8d8d8" stroke-width="0.9"/>
<circle cx="456.32" cy="720.58" r="0.9" fill="#ccc" stroke="none" stroke-width="0"/>
<circle cx="377.82" cy="777.62" r="8.4" fill="#fff" stroke="#000" stroke-width="3.7"/>
<circle cx="377.82" cy="777.62" r="4.6" fill="#2a2a2a" stroke="none" stroke-width="0"/>
<circle cx="377.82" cy="777.62" r="2.7" fill="none" stroke="#d8d8d8" stroke-width="0.9"/>
<circle cx="377.82" cy="777.62" r="0.9" fill="#ccc" stroke="none" stroke-width="0"/>
<circle cx="280.78" cy="777.62" r="8.4" fill="#fff" stroke="#000" stroke-width="3.7"/>
<circle cx="280.78" cy="777.62" r="4.6" fill="#2a2a2a" stroke="none" stroke-width="0"/>
<circle cx="280.78" cy="777.62" r="2.7" fill="none" stroke="#d8d8d8" stroke-width="0.9"/>
<circle cx="280.78" cy="777.62" r="0.9" fill="#ccc" stroke="none" stroke-width="0"/>
<circle cx="202.28" cy="720.58" r="8.4" fill="#fff" stroke="#000" stroke-width="3.7"/>
<circle cx="202.28" cy="720.58" r="4.6" fill="#2a2a2a" stroke="none" stroke-width="0"/>
<circle cx="202.28" cy="720.58" r="2.7" fill="none" stroke="#d8d8d8" stroke-width="0.9"/>
<circle cx="202.28" cy="720.58" r="0.9" fill="#ccc" stroke="none" stroke-width="0"/>
<circle cx="172.3" cy="628.3" r="8.4" fill="#fff" stroke="#000" stroke-width="3.7"/>
<circle cx="172.3" cy="628.3" r="4.6" fill="#2a2a2a" stroke="none" stroke-width="0"/>
<circle cx="172.3" cy="628.3" r="2.7" fill="none" stroke="#d8d8d8" stroke-width="0.9"/>
<circle cx="172.3" cy="628.3" r="0.9" fill="#ccc" stroke="none" stroke-width="0"/>
<circle cx="202.28" cy="536.02" r="8.4" fill="#fff" stroke="#000" stroke-width="3.7"/>
<circle cx="202.28" cy="536.02" r="4.6" fill="#2a2a2a" stroke="none" stroke-width="0"/>
<circle cx="202.28" cy="536.02" r="2.7" fill="none" stroke="#d8d8d8" stroke-width="0.9"/>
<circle cx="202.28" cy="536.02" r="0.9" fill="#ccc" stroke="none" stroke-width="0"/>
<circle cx="280.78" cy="478.98" r="8.4" fill="#fff" stroke="#000" stroke-width="3.7"/>
<circle cx="280.78" cy="478.98" r="4.6" fill="#2a2a2a" stroke="none" stroke-width="0"/>
<circle cx="280.78" cy="478.98" r="2.7" fill="none" stroke="#d8d8d8" stroke-width="0.9"/>
<circle cx="280.78" cy="478.98" r="0.9" fill="#ccc" stroke="none" stroke-width="0"/>
<circle cx="377.82" cy="478.98" r="8.4" fill="#fff" stroke="#000" stroke-width="3.7"/>
<circle cx="377.82" cy="478.98" r="4.6" fill="#2a2a2a" stroke="none" stroke-width="0"/>
<circle cx="377.82" cy="478.98" r="2.7" fill="none" stroke="#d8d8d8" stroke-width="0.9"/>
<circle cx="377.82" cy="478.98" r="0.9" fill="#ccc" stroke="none" stroke-width="0"/>
<circle cx="456.32" cy="536.02" r="8.4" fill="#fff" stroke="#000" stroke-width="3.7"/>
<circle cx="456.32" cy="536.02" r="4.6" fill="#2a2a2a" stroke="none" stroke-width="0"/>
<circle cx="456.32" cy="536.02" r="2.7" fill="none" stroke="#d8d8d8" stroke-width="0.9"/>
<circle cx="456.32" cy="536.02" r="0.9" fill="#ccc" stroke="none" stroke-width="0"/>
<circle cx="395.73" cy="421.4" r="15" fill="none" stroke="#000" stroke-width="3"/>
<circle cx="396.43" cy="422" r="15.6" fill="none" stroke="#000" stroke-width="0.9"/>
<line x1="384.3" y1="417.73" x2="407.15" y2="425.07" stroke="#000" stroke-width="1.4"/>
<circle cx="262.87" cy="421.4" r="15" fill="none" stroke="#000" stroke-width="3"/>
<circle cx="263.57" cy="422" r="15.6" fill="none" stroke="#000" stroke-width="0.9"/>
<line x1="251.45" y1="425.07" x2="274.3" y2="417.73" stroke="#000" stroke-width="1.4"/>
<circle cx="395.73" cy="835.2" r="15" fill="none" stroke="#000" stroke-width="3"/>
<circle cx="396.43" cy="835.8" r="15.6" fill="none" stroke="#000" stroke-width="0.9"/>
<line x1="407.15" y1="831.53" x2="384.3" y2="838.87" stroke="#000" stroke-width="1.4"/>
<circle cx="262.87" cy="835.2" r="15" fill="none" stroke="#000" stroke-width="3"/>
<circle cx="263.57" cy="835.8" r="15.6" fill="none" stroke="#000" stroke-width="0.9"/>
<line x1="274.3" y1="838.87" x2="251.45" y2="831.53" stroke="#000" stroke-width="1.4"/>
<rect x="235" y="240.5" width="190.6" height="32.1" fill="none" stroke="#000" stroke-width="3.3" rx="1.5"/>
<rect x="239" y="235.8" width="212.7" height="5.9" fill="#000" stroke="none" stroke-width="0"/>
<rect x="245.55" y="227.8" width="21.5" height="8.7" fill="#000" stroke="none" stroke-width="0"/>
<rect x="253.7" y="230" width="1.4" height="6" fill="#fff" stroke="none" stroke-width="0"/>
<rect x="257.7" y="230" width="2" height="6" fill="#fff" stroke="none" stroke-width="0"/>
<rect x="262.6" y="230" width="2.2" height="6" fill="#fff" stroke="none" stroke-width="0"/>
<line x1="256.3" y1="224.5" x2="256.3" y2="293.5" stroke="#000" stroke-width="2.2" stroke-dasharray="9 4"/>
<path d="M245.7,274 V284.6 L248.8,284.8 L251.3,288.8 L261.3,288.8 L263.8,284.8 L266.9,284.6 V274 Z" fill="#000" stroke="none" stroke-width="0"/>
<rect x="248.1" y="277" width="2" height="6.2" fill="#999" stroke="none" stroke-width="0"/>
<rect x="252.8" y="277" width="2.3" height="6.2" fill="#fff" stroke="none" stroke-width="0"/>
<rect x="258.1" y="277" width="2" height="6.2" fill="#fff" stroke="none" stroke-width="0"/>
<rect x="263.1" y="277" width="1.4" height="6.2" fill="#fff" stroke="none" stroke-width="0"/>
<rect x="391.75" y="227.8" width="21.5" height="8.7" fill="#000" stroke="none" stroke-width="0"/>
<rect x="394.2" y="230" width="2.6" height="6" fill="#fff" stroke="none" stroke-width="0"/>
<rect x="399.3" y="230" width="2" height="6" fill="#fff" stroke="none" stroke-width="0"/>
<rect x="405.1" y="230" width="2.6" height="6" fill="#fff" stroke="none" stroke-width="0"/>
<rect x="409.9" y="230" width="2" height="6" fill="#fff" stroke="none" stroke-width="0"/>
<line x1="402.5" y1="224.5" x2="402.5" y2="293.5" stroke="#000" stroke-width="2.2" stroke-dasharray="9 4"/>
<path d="M391.9,274 V284.6 L395,284.8 L397.5,288.8 L407.5,288.8 L410,284.8 L413.1,284.6 V274 Z" fill="#000" stroke="none" stroke-width="0"/>
<rect x="394.3" y="277" width="2" height="6.2" fill="#999" stroke="none" stroke-width="0"/>
<rect x="399" y="277" width="2.3" height="6.2" fill="#fff" stroke="none" stroke-width="0"/>
<rect x="404.3" y="277" width="2" height="6.2" fill="#fff" stroke="none" stroke-width="0"/>
<rect x="409.3" y="277" width="1.4" height="6.2" fill="#fff" stroke="none" stroke-width="0"/>
<rect x="313.7" y="300.4" width="31.8" height="5.5" fill="none" stroke="#000" stroke-width="2.5"/>
<rect x="325.6" y="306" width="8.4" height="19.5" fill="#000" stroke="none" stroke-width="0"/>
<rect x="308.8" y="313.3" width="5" height="34.2" fill="none" stroke="#000" stroke-width="2.6"/>
<rect x="345.4" y="313.3" width="5" height="34.2" fill="none" stroke="#000" stroke-width="2.6"/>
<path d="M313.8,314.5 L329.6,330.4 L313.8,346.3 M345.4,314.5 L329.6,330.4 L345.4,346.3" fill="none" stroke="#000" stroke-width="3.2"/>
<path d="M316.5,323.5 L323.8,330.4 L316.5,337.3 M342.7,323.5 L335.4,330.4 L342.7,337.3" fill="none" stroke="#000" stroke-width="1.4"/>
<path d="M300,236 L292.5,229 V188.3 H782 L773,216.6 H614 L506.5,220.2 A42.3,42.3 0 0 1 455.9,220.2 H364.3 V228.4 H366.8 L357.5,236" fill="none" stroke="#000" stroke-width="3.3"/>
<line x1="433.3" y1="219.5" x2="433.3" y2="236" stroke="#000" stroke-width="5.5"/>
<line x1="437" y1="236" x2="455.9" y2="220.2" stroke="#000" stroke-width="2.4"/>
<circle cx="329.3" cy="211.7" r="5.6" fill="none" stroke="#000" stroke-width="1.8"/>
<line x1="318.3" y1="211.7" x2="340.3" y2="211.7" stroke="#000" stroke-width="1.2"/>
<line x1="481.3" y1="205.8" x2="481.3" y2="222.8" stroke="#000" stroke-width="1"/>
<circle cx="481.3" cy="214.3" r="6.6" fill="#000" stroke="none" stroke-width="0"/>
<line x1="478.3" y1="214.3" x2="484.3" y2="214.3" stroke="#ddd" stroke-width="0.9"/>
<line x1="481.3" y1="211.3" x2="481.3" y2="217.3" stroke="#ddd" stroke-width="0.9"/>
<path d="M525,222.5 L560,221 L561,223.2 L543,226" fill="none" stroke="#444" stroke-width="0.9"/>
<path d="M506.5,220.2 L522,221.2 L752.5,299.3 Q758.8,301.6 758.8,307.5 L755.7,319.4 L457,244.4 Q450,243.6 442,249.7 L427.4,245.5 V241" fill="none" stroke="#000" stroke-width="3.3" stroke-linejoin="round"/>
<!-- corte -->
<line x1="965.8" y1="389.5" x2="1086" y2="389.5" stroke="#222" stroke-width="1"/>
<line x1="965.8" y1="866.3" x2="1086" y2="866.3" stroke="#222" stroke-width="1"/>
<line x1="1079" y1="389.5" x2="1079" y2="866.3" stroke="#222" stroke-width="1"/>
<polygon points="1079,389.5 1081.5,403.5 1076.5,403.5" fill="#000"/>
<polygon points="1079,866.3 1076.5,852.3 1081.5,852.3" fill="#000"/>
<text x="1069" y="627" font-size="25" text-anchor="middle" transform="rotate(-90 1069 627)" class="thin">øD</text>
<line x1="813.3" y1="871.3" x2="813.3" y2="1012.6" stroke="#444" stroke-width="1"/>
<line x1="960.9" y1="871.3" x2="960.9" y2="1012.6" stroke="#444" stroke-width="1"/>
<line x1="813.3" y1="1006.4" x2="960.9" y2="1006.4" stroke="#222" stroke-width="1"/>
<polygon points="813.3,1006.4 827.3,1003.9 827.3,1008.9" fill="#000"/>
<polygon points="960.9,1006.4 946.9,1008.9 946.9,1003.9" fill="#000"/>
<text x="887" y="997" font-size="25" text-anchor="middle" class="thin">L</text>
<path d="M781.7,240 H831.7 V255.8 H846.7 V405 H853.3 V430.8 H813.3 V380.8 H824.8 A6,6 0 0 0 830.8,374.8 V279.3 A6,6 0 0 0 824.8,273.3 H781.7 Z" fill="url(#h1)" stroke="none" stroke-width="0"/>
<path d="M781.7,240 H831.7 V255.8 H846.7 V405 H853.3 V430.8 H813.3 V380.8 H824.8 A6,6 0 0 0 830.8,374.8 V279.3 A6,6 0 0 0 824.8,273.3 H781.7 Z" fill="none" stroke="#000" stroke-width="3.3" stroke-linejoin="round"/>
<path d="M920.8,240 H971.3 V273.3 H927.7 A6,6 0 0 0 921.7,279.3 V383.7 A6,6 0 0 0 927.7,389.7 H933.3 V416.7 H915 V429 H917.5 V441.3 L899.5,438.3 V405 H906 V255.8 H920.8 Z" fill="url(#h1)" stroke="none" stroke-width="0"/>
<path d="M920.8,240 H971.3 V273.3 H927.7 A6,6 0 0 0 921.7,279.3 V383.7 A6,6 0 0 0 927.7,389.7 H933.3 V416.7 H915 V429 H917.5 V441.3 L899.5,438.3 V405 H906 V255.8 H920.8 Z" fill="none" stroke="#000" stroke-width="3.3" stroke-linejoin="round"/>
<path d="M933.3,389.7 L960.8,389.7 L960.8,432.5 L939,438.3 L939,429 L945,429 L945,416.7 L933.3,416.7 Z" fill="url(#h2)" stroke="none" stroke-width="0"/>
<path d="M933.3,389.7 L960.8,389.7 L960.8,432.5 L939,438.3 L939,429 L945,429 L945,416.7 L933.3,416.7 Z" fill="none" stroke="#000" stroke-width="2.4" stroke-linejoin="round"/>
<rect x="831.7" y="240" width="89.1" height="15.8" fill="#fff" stroke="none" stroke-width="0"/>
<rect x="834" y="244" width="21" height="9.5" fill="url(#h3)" stroke="none" stroke-width="0"/>
<rect x="898" y="244" width="20.5" height="9.5" fill="url(#h3)" stroke="none" stroke-width="0"/>
<rect x="834" y="244" width="21" height="9.5" fill="none" stroke="#000" stroke-width="1.6"/>
<rect x="898" y="244" width="20.5" height="9.5" fill="none" stroke="#000" stroke-width="1.6"/>
<path d="M831.7,240 V255.8 H920.8 V240" fill="none" stroke="#000" stroke-width="3.6"/>
<line x1="780.2" y1="240.3" x2="972.8" y2="240.3" stroke="#000" stroke-width="3.4"/>
<rect x="859.4" y="188.2" width="33.8" height="53.3" fill="#fff" stroke="#000" stroke-width="3.2"/>
<line x1="861" y1="190" x2="891.5" y2="240" stroke="#000" stroke-width="0.9"/>
<line x1="891.5" y1="190" x2="861" y2="240" stroke="#000" stroke-width="0.9"/>
<path d="M813.3,820.8 H853.3 V836.7 H846.7 V891.7 H830.8 V872.7 A6,6 0 0 0 824.8,866.7 H813.3 Z" fill="url(#h1)" stroke="none" stroke-width="0"/>
<path d="M813.3,820.8 H853.3 V836.7 H846.7 V891.7 H830.8 V872.7 A6,6 0 0 0 824.8,866.7 H813.3 Z" fill="none" stroke="#000" stroke-width="3.3" stroke-linejoin="round"/>
<path d="M899.5,814.5 L917.5,812 V823 H915 V836 H933.3 V866.7 H927.7 A6,6 0 0 0 921.7,872.7 V891.7 H906 V836.7 H899.5 Z" fill="url(#h1)" stroke="none" stroke-width="0"/>
<path d="M899.5,814.5 L917.5,812 V823 H915 V836 H933.3 V866.7 H927.7 A6,6 0 0 0 921.7,872.7 V891.7 H906 V836.7 H899.5 Z" fill="none" stroke="#000" stroke-width="3.3" stroke-linejoin="round"/>
<path d="M939,811 L960.8,815 L960.8,866.7 L933.3,866.7 L933.3,836 L945,836 L945,823 L939,823 Z" fill="url(#h2)" stroke="none" stroke-width="0"/>
<path d="M939,811 L960.8,815 L960.8,866.7 L933.3,866.7 L933.3,836 L945,836 L945,823 L939,823 Z" fill="none" stroke="#000" stroke-width="2.4" stroke-linejoin="round"/>
<rect x="830.5" y="891.7" width="91.5" height="13.9" fill="url(#h3)" stroke="none" stroke-width="0"/>
<rect x="830.5" y="891.7" width="91.5" height="13.9" fill="none" stroke="#000" stroke-width="3.4"/>
<rect x="838.7" y="906.3" width="21.6" height="8.1" fill="#000" stroke="none" stroke-width="0"/>
<rect x="846" y="907.6" width="2" height="5.4" fill="#fff" stroke="none" stroke-width="0"/>
<rect x="850.8" y="907.6" width="2" height="5.4" fill="#fff" stroke="none" stroke-width="0"/>
<rect x="855.5" y="907.6" width="2" height="5.4" fill="#fff" stroke="none" stroke-width="0"/>
<line x1="853" y1="893" x2="853" y2="917" stroke="#000" stroke-width="1"/>
<rect x="892.5" y="906.3" width="21.6" height="8.1" fill="#000" stroke="none" stroke-width="0"/>
<rect x="899.8" y="907.6" width="2" height="5.4" fill="#fff" stroke="none" stroke-width="0"/>
<rect x="904.6" y="907.6" width="2" height="5.4" fill="#fff" stroke="none" stroke-width="0"/>
<rect x="909.3" y="907.6" width="2" height="5.4" fill="#fff" stroke="none" stroke-width="0"/>
<line x1="906.8" y1="893" x2="906.8" y2="917" stroke="#000" stroke-width="1"/>
<path d="M915,416.7 L945,416.7 L945,429 L939,429 L939,451.5 L917.5,447.5 L917.5,429 L915,429 Z" fill="#fff" stroke="none" stroke-width="0"/>
<path d="M915,416.7 L945,416.7 L945,429 L939,429 L939,451.5 L917.5,447.5 L917.5,429 L915,429 Z" fill="url(#hx)" stroke="none" stroke-width="0"/>
<path d="M915,416.7 L945,416.7 L945,429 L939,429 L939,451.5 L917.5,447.5 L917.5,429 L915,429 Z" fill="none" stroke="#000" stroke-width="2.8" stroke-linejoin="round"/>
<rect x="926.7" y="412.3" width="12.5" height="4.7" fill="#000" stroke="none" stroke-width="0"/>
<path d="M917.5,805.8 L939,803 L939,823 L945,823 L945,836 L915,836 L915,823 L917.5,823 Z" fill="#fff" stroke="none" stroke-width="0"/>
<path d="M917.5,805.8 L939,803 L939,823 L945,823 L945,836 L915,836 L915,823 L917.5,823 Z" fill="url(#hx)" stroke="none" stroke-width="0"/>
<path d="M917.5,805.8 L939,803 L939,823 L945,823 L945,836 L915,836 L915,823 L917.5,823 Z" fill="none" stroke="#000" stroke-width="2.8" stroke-linejoin="round"/>
<rect x="926.7" y="835.8" width="12.5" height="4.7" fill="#000" stroke="none" stroke-width="0"/>
<line x1="933.3" y1="390" x2="933.3" y2="413" stroke="#000" stroke-width="2.2"/>
<line x1="933.3" y1="840" x2="933.3" y2="866.5" stroke="#000" stroke-width="2.2"/>
<line x1="918" y1="403.3" x2="964" y2="403.3" stroke="#000" stroke-width="1.1" stroke-dasharray="24 3 5 3"/>
<line x1="918" y1="852" x2="964" y2="852" stroke="#000" stroke-width="1.1" stroke-dasharray="24 3 5 3"/>
<rect x="846.7" y="256" width="6.8" height="149" fill="#fff" stroke="none" stroke-width="0"/>
<rect x="847.9" y="256" width="4.4" height="147" fill="url(#hb)" stroke="none" stroke-width="0"/>
<rect x="846.7" y="256" width="6.8" height="147.5" fill="none" stroke="#000" stroke-width="2.3"/>
<rect x="846.3" y="304" width="7.6" height="8.5" fill="#000" stroke="none" stroke-width="0"/>
<rect x="846.3" y="397" width="7.6" height="8.5" fill="#000" stroke="none" stroke-width="0"/>
<rect x="846.7" y="838" width="6.8" height="53" fill="#fff" stroke="none" stroke-width="0"/>
<rect x="847.9" y="838" width="4.4" height="53" fill="url(#hb)" stroke="none" stroke-width="0"/>
<rect x="846.7" y="838" width="6.8" height="53" fill="none" stroke="#000" stroke-width="2.3"/>
<rect x="846.3" y="836" width="7.6" height="9" fill="#000" stroke="none" stroke-width="0"/>
<rect x="899.2" y="256" width="6.8" height="149" fill="#fff" stroke="none" stroke-width="0"/>
<rect x="900.4" y="256" width="4.4" height="147" fill="url(#hb)" stroke="none" stroke-width="0"/>
<rect x="899.2" y="256" width="6.8" height="147.5" fill="none" stroke="#000" stroke-width="2.3"/>
<rect x="898.8" y="304" width="7.6" height="8.5" fill="#000" stroke="none" stroke-width="0"/>
<rect x="898.8" y="397" width="7.6" height="8.5" fill="#000" stroke="none" stroke-width="0"/>
<rect x="899.2" y="838" width="6.8" height="53" fill="#fff" stroke="none" stroke-width="0"/>
<rect x="900.4" y="838" width="4.4" height="53" fill="url(#hb)" stroke="none" stroke-width="0"/>
<rect x="899.2" y="838" width="6.8" height="53" fill="none" stroke="#000" stroke-width="2.3"/>
<rect x="898.8" y="836" width="7.6" height="9" fill="#000" stroke="none" stroke-width="0"/>
<line x1="853.4" y1="256" x2="853.4" y2="474.2" stroke="#000" stroke-width="3.3"/>
<line x1="899.3" y1="256" x2="899.3" y2="474.2" stroke="#000" stroke-width="3.3"/>
<line x1="853.4" y1="541" x2="853.4" y2="714" stroke="#000" stroke-width="3.3"/>
<line x1="899.3" y1="556" x2="899.3" y2="700" stroke="#000" stroke-width="3.3"/>
<line x1="853.4" y1="781.7" x2="853.4" y2="891" stroke="#000" stroke-width="3.3"/>
<line x1="899.3" y1="781.7" x2="899.3" y2="891" stroke="#000" stroke-width="3.3"/>
<line x1="852" y1="889.8" x2="900.7" y2="889.8" stroke="#000" stroke-width="4.2"/>
<line x1="854" y1="476" x2="854" y2="545" stroke="#000" stroke-width="1.5" stroke-dasharray="8 4"/>
<line x1="854" y1="711" x2="854" y2="781" stroke="#000" stroke-width="1.5" stroke-dasharray="8 4"/>
<line x1="898.7" y1="476" x2="898.7" y2="545" stroke="#000" stroke-width="1.5" stroke-dasharray="8 4"/>
<line x1="898.7" y1="711" x2="898.7" y2="781" stroke="#000" stroke-width="1.5" stroke-dasharray="8 4"/>
<line x1="813.3" y1="379.3" x2="813.3" y2="868.2" stroke="#000" stroke-width="3.4"/>
<line x1="960.8" y1="388.2" x2="960.8" y2="868.2" stroke="#000" stroke-width="3.4"/>
<line x1="915.8" y1="449" x2="915.8" y2="804" stroke="#000" stroke-width="3.2"/>
<line x1="938.4" y1="450" x2="938.4" y2="804" stroke="#000" stroke-width="3.2"/>
<line x1="811.7" y1="430.8" x2="853.4" y2="430.8" stroke="#000" stroke-width="3.2"/>
<line x1="811.7" y1="820.8" x2="853.4" y2="820.8" stroke="#000" stroke-width="3.2"/>
<path d="M915.8,449.5 C915.5,462 912.5,474.2 905,474.2 H851.7 A8.4,8.4 0 0 0 843.3,482.6 V531 Q843.3,539 851,541.8 L892,553.8 Q899.3,556 899.3,562" fill="none" stroke="#000" stroke-width="3.3" stroke-linejoin="round"/>
<path d="M915.8,803.3 C915.5,793 912.5,781.7 905,781.7 H851.7 A8.4,8.4 0 0 1 843.3,773.3 V723 Q843.3,715.5 851,713.2 L892,701.8 Q899.3,699.8 899.3,694" fill="none" stroke="#000" stroke-width="3.3" stroke-linejoin="round"/>
<path d="M915.8,478 L894.3,628.3 L915.8,778" fill="none" stroke="#000" stroke-width="1.6"/>
<path d="M902.5,553 L894.3,628.3 L902.5,703" fill="none" stroke="#000" stroke-width="1.1"/>
<line x1="876.2" y1="171.3" x2="876.2" y2="921.4" stroke="#000" stroke-width="2.2" stroke-dasharray="30 5 6 5"/>
<line x1="800" y1="628.3" x2="973.3" y2="628.3" stroke="#000" stroke-width="2.6" stroke-dasharray="32 5 7 5"/>
<line x1="803" y1="225" x2="803" y2="293.3" stroke="#000" stroke-width="2.2" stroke-dasharray="26 5 6 5"/>
<line x1="949.5" y1="225" x2="949.5" y2="293.3" stroke="#000" stroke-width="2.2" stroke-dasharray="26 5 6 5"/>
<line x1="744.2" y1="628.1" x2="780" y2="628.1" stroke="#000" stroke-width="4.6"/>
<polygon points="800.3,628.1 776.5,637.1 776.5,619.1" fill="#000"/>
<line x1="996" y1="628.1" x2="1030.8" y2="628.1" stroke="#000" stroke-width="4.6"/>
<polygon points="972.8,628.1 998.6,619.1 998.6,637.1" fill="#000"/>
<text x="747.4" y="619.7" font-size="31.6" stroke="#fff" stroke-width="0.5">A</text>
<text x="1009.4" y="658.3" font-size="31.4" stroke="#fff" stroke-width="0.5">B</text>
<!-- acionamento -->
<line x1="329.3" y1="966" x2="329.3" y2="1044.7" stroke="#222" stroke-width="1"/>
<line x1="513.3" y1="966" x2="513.3" y2="998" stroke="#222" stroke-width="1"/>
<line x1="329.3" y1="972.7" x2="513.3" y2="972.7" stroke="#222" stroke-width="1"/>
<polygon points="329.3,972.7 343.3,970.2 343.3,975.2" fill="#000"/>
<polygon points="513.3,972.7 499.3,975.2 499.3,970.2" fill="#000"/>
<text x="421.5" y="963.5" font-size="25" text-anchor="middle" class="thin">G</text>
<line x1="514" y1="998" x2="580" y2="998" stroke="#222" stroke-width="1"/>
<line x1="514" y1="1213.5" x2="580" y2="1213.5" stroke="#222" stroke-width="1"/>
<line x1="574.1" y1="998" x2="574.1" y2="1213.5" stroke="#222" stroke-width="1"/>
<polygon points="574.1,998 576.6,1012 571.6,1012" fill="#000"/>
<polygon points="574.1,1213.5 571.6,1199.5 576.6,1199.5" fill="#000"/>
<text x="565" y="1105" font-size="25" text-anchor="middle" transform="rotate(-90 565 1105)" class="thin">øW</text>
<line x1="200.8" y1="1059.3" x2="289.3" y2="1059.3" stroke="#222" stroke-width="1"/>
<line x1="200.8" y1="1148.1" x2="244" y2="1148.1" stroke="#222" stroke-width="1"/>
<line x1="207.5" y1="1059.3" x2="207.5" y2="1148.1" stroke="#222" stroke-width="1"/>
<polygon points="207.5,1059.3 210,1073.3 205,1073.3" fill="#000"/>
<polygon points="207.5,1148.1 205,1134.1 210,1134.1" fill="#000"/>
<text x="198.5" y="1103.5" font-size="25" text-anchor="middle" transform="rotate(-90 198.5 1103.5)" class="thin">K</text>
<text x="170.7" y="1010.8" font-size="18.8" textLength="132" lengthAdjust="spacingAndGlyphs" stroke="#000" stroke-width="1.3">ACIONAMENTO</text>
<text x="168" y="1032" font-size="18.8" style="word-spacing:7.83px" textLength="137.5" lengthAdjust="spacingAndGlyphs" stroke="#000" stroke-width="1.3">COM REDUTOR</text>
<rect x="292.5" y="1057.5" width="74.2" height="5" fill="#000" stroke="none" stroke-width="0" rx="1.5"/>
<rect x="241.5" y="1062.8" width="176.1" height="10" fill="none" stroke="#000" stroke-width="3" rx="2.5"/>
<path d="M241.6,1073 L246.9,1145 Q247.2,1148.6 251,1148.6 H409 Q412.8,1148.6 413.1,1145 L417.5,1073" fill="none" stroke="#000" stroke-width="3"/>
<line x1="241" y1="1072.8" x2="418" y2="1072.8" stroke="#000" stroke-width="3.4"/>
<path d="M269,1073 V1128.5 H308.3 V1073" fill="none" stroke="#000" stroke-width="3"/>
<path d="M351,1073 V1128.5 H389.8 V1073" fill="none" stroke="#000" stroke-width="3"/>
<path d="M303.9,1116.7 L298.2,1126.57 L286.8,1126.57 L281.1,1116.7 L286.8,1106.83 L298.2,1106.83 Z" fill="#000" stroke="none" stroke-width="0"/>
<circle cx="292.5" cy="1116.7" r="2.5" fill="#fff" stroke="none" stroke-width="0"/>
<path d="M377.5,1116.7 L371.8,1126.57 L360.4,1126.57 L354.7,1116.7 L360.4,1106.83 L371.8,1106.83 Z" fill="#000" stroke="none" stroke-width="0"/>
<circle cx="366.1" cy="1116.7" r="2.5" fill="#fff" stroke="none" stroke-width="0"/>
<path d="M264,1148.6 V1173 H395.3 V1148.6" fill="none" stroke="#000" stroke-width="3"/>
<line x1="296.5" y1="1173" x2="296.5" y2="1208.7" stroke="#000" stroke-width="3"/>
<line x1="363" y1="1173" x2="363" y2="1208.7" stroke="#000" stroke-width="3"/>
<path d="M296.5,1208.5 C305,1213 312,1213.5 320,1210 C324,1208.3 327,1208.3 329.3,1208.8 C338,1213 347,1213 363,1208.5" fill="none" stroke="#000" stroke-width="1.1"/>
<line x1="285.3" y1="1136.7" x2="285.3" y2="1173" stroke="#000" stroke-width="2.2" stroke-dasharray="9 4"/>
<rect x="275.8" y="1175" width="19" height="8.5" fill="#000" stroke="none" stroke-width="0" rx="2"/>
<rect x="280.3" y="1176.5" width="2.4" height="5.5" fill="#fff" stroke="none" stroke-width="0"/>
<rect x="286.8" y="1176.5" width="2.4" height="5.5" fill="#fff" stroke="none" stroke-width="0"/>
<line x1="285.3" y1="1183" x2="285.3" y2="1194.5" stroke="#000" stroke-width="2.2"/>
<line x1="372.8" y1="1136.7" x2="372.8" y2="1173" stroke="#000" stroke-width="2.2" stroke-dasharray="9 4"/>
<rect x="363.3" y="1175" width="19" height="8.5" fill="#000" stroke="none" stroke-width="0" rx="2"/>
<rect x="367.8" y="1176.5" width="2.4" height="5.5" fill="#fff" stroke="none" stroke-width="0"/>
<rect x="374.3" y="1176.5" width="2.4" height="5.5" fill="#fff" stroke="none" stroke-width="0"/>
<line x1="372.8" y1="1183" x2="372.8" y2="1194.5" stroke="#000" stroke-width="2.2"/>
<line x1="231.2" y1="1105.5" x2="525.3" y2="1105.5" stroke="#000" stroke-width="2.4" stroke-dasharray="28 5 7 5"/>
<line x1="329.3" y1="1048.7" x2="329.3" y2="1215.3" stroke="#000" stroke-width="2.4" stroke-dasharray="28 5 7 5"/>
<line x1="418" y1="1097" x2="446.7" y2="1097" stroke="#000" stroke-width="3"/>
<line x1="418" y1="1114" x2="446.7" y2="1114" stroke="#000" stroke-width="3"/>
<path d="M446.7,1084.7 L469.3,1082 V1128.7 L446.7,1126.8 Z" fill="#fff" stroke="#000" stroke-width="3"/>
<path d="M469.3,1080 L476,1075.3 L479,1080 V1130 L476,1134 L469.3,1129 Z" fill="#fff" stroke="#000" stroke-width="2.4"/>
<circle cx="457.3" cy="1114" r="3.2" fill="#000" stroke="none" stroke-width="0"/>
<path d="M474,1077 L489.5,1034 M479.5,1083 L489.8,1054" fill="none" stroke="#000" stroke-width="3"/>
<path d="M474,1132 L489.5,1172 M479.5,1126 L489.8,1153" fill="none" stroke="#000" stroke-width="3"/>
<path d="M479,1096 L490,1099 M479,1114 L490,1111" fill="none" stroke="#000" stroke-width="2.2"/>
<rect x="490" y="997.8" width="24" height="216" fill="none" stroke="#000" stroke-width="3.2" rx="7"/>
<line x1="231.2" y1="1105.5" x2="525.3" y2="1105.5" stroke="#000" stroke-width="2.4" stroke-dasharray="28 5 7 5"/>
<!-- logo -->
<rect x="716" y="1114.8" width="51" height="9.9" fill="url(#gs)" stroke="none" stroke-width="0"/>
<rect x="737" y="1124.7" width="11.5" height="46.3" fill="url(#gs)" stroke="none" stroke-width="0"/>
<path d="M763.8,1143 L763.8,1157 L718,1201.5 L716,1201.5 L716,1189.5 Z" fill="url(#gs)" stroke="none" stroke-width="0"/>
</g>
<path d="M705.6,1142.7 L724,1142.7 L763.8,1186 L763.8,1142.7 L774.1,1142.7 L774.1,1201.5 L756.5,1201.5 L716,1158.5 L716,1201.5 L705.6,1201.5 Z" fill="#1d9c48" stroke="none" stroke-width="0"/>
<g style="filter:grayscale(1)">
<text x="781.8" y="1179.3" font-size="47.8" textLength="144" lengthAdjust="spacingAndGlyphs" stroke="#000" stroke-width="0.9">Niagara</text>
<text x="782.4" y="1199" font-size="8.4" font-weight="bold" textLength="144.5" lengthAdjust="spacingAndGlyphs" fill="#222">Indústria e Comércio de Válvulas Ltda</text>
<!-- baloes -->
<line x1="166.5" y1="156" x2="246.7" y2="228.3" stroke="#000" stroke-width="1.9"/>
<line x1="649" y1="343.2" x2="668" y2="286.7" stroke="#000" stroke-width="1.9"/>
<circle cx="668" cy="286.7" r="3.1" fill="#000" stroke="none" stroke-width="0"/>
<line x1="762.3" y1="375" x2="846.7" y2="387.5" stroke="#000" stroke-width="1.9"/>
<line x1="759.5" y1="445.5" x2="830.8" y2="407.5" stroke="#000" stroke-width="1.9"/>
<circle cx="830.8" cy="407.5" r="3.1" fill="#000" stroke="none" stroke-width="0"/>
<line x1="762" y1="554" x2="862.5" y2="573.3" stroke="#000" stroke-width="1.9"/>
<circle cx="862.5" cy="573.3" r="3.1" fill="#000" stroke="none" stroke-width="0"/>
<line x1="762" y1="732.5" x2="849" y2="749" stroke="#000" stroke-width="1.9"/>
<circle cx="849" cy="749" r="3.1" fill="#000" stroke="none" stroke-width="0"/>
<line x1="759" y1="818.5" x2="846.7" y2="866.7" stroke="#000" stroke-width="1.9"/>
<line x1="762.5" y1="893.6" x2="837.7" y2="899.3" stroke="#000" stroke-width="1.9"/>
<circle cx="837.7" cy="899.3" r="3.1" fill="#000" stroke="none" stroke-width="0"/>
<line x1="759.3" y1="958.2" x2="838.7" y2="912.9" stroke="#000" stroke-width="1.9"/>
<line x1="759.3" y1="1032.8" x2="892.5" y2="908.2" stroke="#000" stroke-width="1.9"/>
<line x1="1000" y1="288.3" x2="906.7" y2="398.3" stroke="#000" stroke-width="1.9"/>
<line x1="1000" y1="739" x2="928.3" y2="819" stroke="#000" stroke-width="1.9"/>
<circle cx="928.3" cy="819" r="3.1" fill="#000" stroke="none" stroke-width="0"/>
<line x1="995" y1="820.8" x2="953.3" y2="844" stroke="#000" stroke-width="1.9"/>
<circle cx="953.3" cy="844" r="3.1" fill="#000" stroke="none" stroke-width="0"/>
<circle cx="146.2" cy="135.5" r="28.8" fill="#fff" stroke="#000" stroke-width="1.8"/>
<text x="146.2" y="146.7" font-size="33.5" text-anchor="middle" textLength="37" lengthAdjust="spacingAndGlyphs" fill="#111" class="thin2">10</text>
<circle cx="638.6" cy="371.6" r="28.8" fill="#fff" stroke="#000" stroke-width="1.8"/>
<text x="638.6" y="382.8" font-size="33.5" text-anchor="middle" textLength="37" lengthAdjust="spacingAndGlyphs" fill="#111" class="thin2">13</text>
<circle cx="734.2" cy="371.6" r="28.8" fill="#fff" stroke="#000" stroke-width="1.8"/>
<text x="734.2" y="382.8" font-size="33.5" text-anchor="middle" textLength="17" lengthAdjust="spacingAndGlyphs" fill="#111" class="thin2">6</text>
<circle cx="734.2" cy="459.5" r="28.8" fill="#fff" stroke="#000" stroke-width="1.8"/>
<text x="734.2" y="470.7" font-size="33.5" text-anchor="middle" textLength="17" lengthAdjust="spacingAndGlyphs" fill="#111" class="thin2">1</text>
<circle cx="734.2" cy="548.6" r="28.8" fill="#fff" stroke="#000" stroke-width="1.8"/>
<text x="734.2" y="559.8" font-size="33.5" text-anchor="middle" textLength="17" lengthAdjust="spacingAndGlyphs" fill="#111" class="thin2">4</text>
<circle cx="733.9" cy="727.1" r="28.8" fill="#fff" stroke="#000" stroke-width="1.8"/>
<text x="733.9" y="738.3" font-size="33.5" text-anchor="middle" textLength="17" lengthAdjust="spacingAndGlyphs" fill="#111" class="thin2">2</text>
<circle cx="733.9" cy="804.5" r="28.8" fill="#fff" stroke="#000" stroke-width="1.8"/>
<text x="733.9" y="815.7" font-size="33.5" text-anchor="middle" textLength="17" lengthAdjust="spacingAndGlyphs" fill="#111" class="thin2">5</text>
<circle cx="733.9" cy="891.6" r="28.8" fill="#fff" stroke="#000" stroke-width="1.8"/>
<text x="733.9" y="902.8" font-size="33.5" text-anchor="middle" textLength="17" lengthAdjust="spacingAndGlyphs" fill="#111" class="thin2">8</text>
<circle cx="733.9" cy="973.5" r="28.8" fill="#fff" stroke="#000" stroke-width="1.8"/>
<text x="733.9" y="984.7" font-size="33.5" text-anchor="middle" textLength="17" lengthAdjust="spacingAndGlyphs" fill="#111" class="thin2">9</text>
<circle cx="733.9" cy="1048.4" r="28.8" fill="#fff" stroke="#000" stroke-width="1.8"/>
<text x="733.9" y="1059.6" font-size="33.5" text-anchor="middle" textLength="37" lengthAdjust="spacingAndGlyphs" fill="#111" class="thin2">11</text>
<circle cx="1020" cy="265.8" r="28.8" fill="#fff" stroke="#000" stroke-width="1.8"/>
<text x="1020" y="277" font-size="33.5" text-anchor="middle" textLength="37" lengthAdjust="spacingAndGlyphs" fill="#111" class="thin2">12</text>
<circle cx="1020" cy="717.5" r="28.8" fill="#fff" stroke="#000" stroke-width="1.8"/>
<text x="1020" y="728.7" font-size="33.5" text-anchor="middle" textLength="17" lengthAdjust="spacingAndGlyphs" fill="#111" class="thin2">3</text>
<circle cx="1020" cy="804.2" r="28.8" fill="#fff" stroke="#000" stroke-width="1.8"/>
<text x="1020" y="815.4" font-size="33.5" text-anchor="middle" textLength="17" lengthAdjust="spacingAndGlyphs" fill="#111" class="thin2">7</text>
</g>
</svg>
</body></html>
